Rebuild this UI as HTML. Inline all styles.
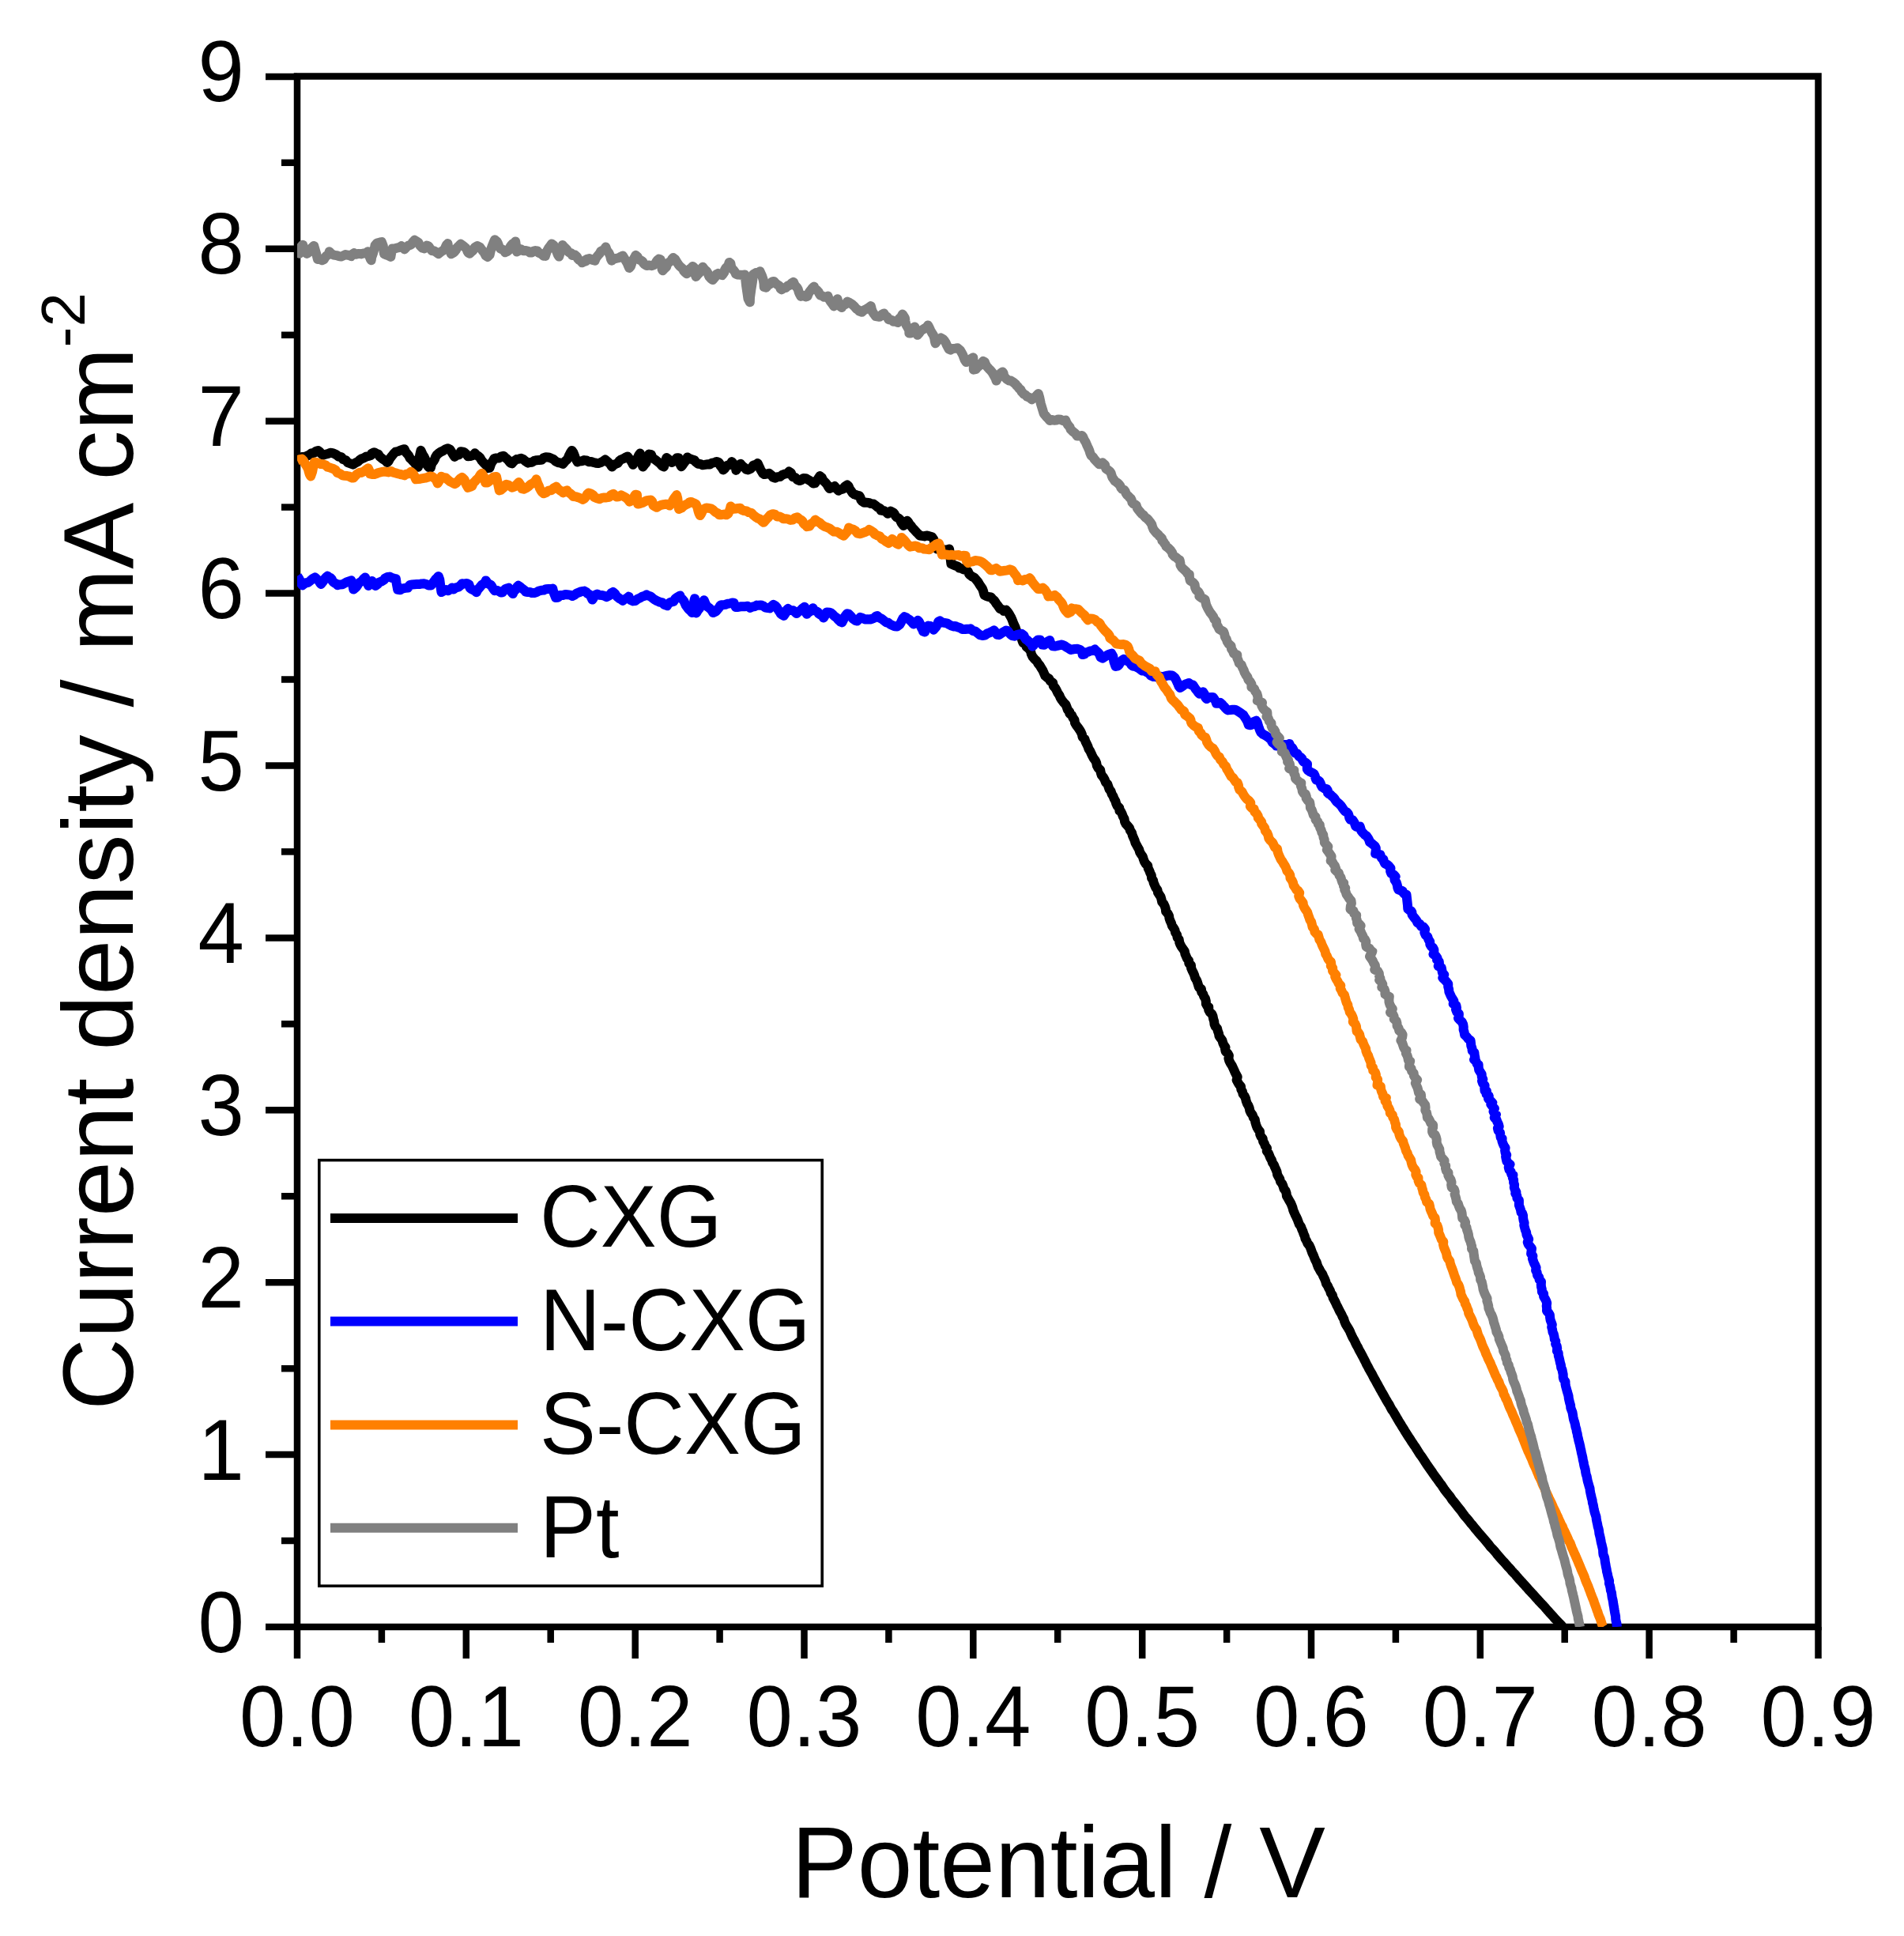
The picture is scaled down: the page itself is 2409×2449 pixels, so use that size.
<!DOCTYPE html>
<html><head><meta charset="utf-8"><title>J-V curves</title><style>html,body{margin:0;padding:0;background:#fff;overflow:hidden}svg{display:block}</style></head><body>
<svg width="2409" height="2449" viewBox="0 0 2409 2449">
<rect width="2409" height="2449" fill="#fff"/>
<g stroke="#000" stroke-width="8.5" fill="none" stroke-linecap="butt">
<rect x="376" y="96.5" width="1924.5" height="1961.5"/>
<line x1="336" y1="2058.0" x2="376" y2="2058.0"/>
<line x1="356" y1="1949.0" x2="376" y2="1949.0"/>
<line x1="336" y1="1840.1" x2="376" y2="1840.1"/>
<line x1="356" y1="1731.2" x2="376" y2="1731.2"/>
<line x1="336" y1="1622.2" x2="376" y2="1622.2"/>
<line x1="356" y1="1513.2" x2="376" y2="1513.2"/>
<line x1="336" y1="1404.3" x2="376" y2="1404.3"/>
<line x1="356" y1="1295.3" x2="376" y2="1295.3"/>
<line x1="336" y1="1186.4" x2="376" y2="1186.4"/>
<line x1="356" y1="1077.4" x2="376" y2="1077.4"/>
<line x1="336" y1="968.5" x2="376" y2="968.5"/>
<line x1="356" y1="859.5" x2="376" y2="859.5"/>
<line x1="336" y1="750.6" x2="376" y2="750.6"/>
<line x1="356" y1="641.6" x2="376" y2="641.6"/>
<line x1="336" y1="532.7" x2="376" y2="532.7"/>
<line x1="356" y1="423.8" x2="376" y2="423.8"/>
<line x1="336" y1="314.8" x2="376" y2="314.8"/>
<line x1="356" y1="205.8" x2="376" y2="205.8"/>
<line x1="336" y1="96.9" x2="376" y2="96.9"/>
<line x1="376.0" y1="2058" x2="376.0" y2="2098"/>
<line x1="482.9" y1="2058" x2="482.9" y2="2078"/>
<line x1="589.8" y1="2058" x2="589.8" y2="2098"/>
<line x1="696.7" y1="2058" x2="696.7" y2="2078"/>
<line x1="803.7" y1="2058" x2="803.7" y2="2098"/>
<line x1="910.6" y1="2058" x2="910.6" y2="2078"/>
<line x1="1017.5" y1="2058" x2="1017.5" y2="2098"/>
<line x1="1124.4" y1="2058" x2="1124.4" y2="2078"/>
<line x1="1231.3" y1="2058" x2="1231.3" y2="2098"/>
<line x1="1338.2" y1="2058" x2="1338.2" y2="2078"/>
<line x1="1445.2" y1="2058" x2="1445.2" y2="2098"/>
<line x1="1552.1" y1="2058" x2="1552.1" y2="2078"/>
<line x1="1659.0" y1="2058" x2="1659.0" y2="2098"/>
<line x1="1765.9" y1="2058" x2="1765.9" y2="2078"/>
<line x1="1872.8" y1="2058" x2="1872.8" y2="2098"/>
<line x1="1979.7" y1="2058" x2="1979.7" y2="2078"/>
<line x1="2086.6" y1="2058" x2="2086.6" y2="2098"/>
<line x1="2193.6" y1="2058" x2="2193.6" y2="2078"/>
<line x1="2300.5" y1="2058" x2="2300.5" y2="2098"/>
</g>
<defs><clipPath id="c"><rect x="376" y="96" width="1925" height="1962"/></clipPath></defs>
<g clip-path="url(#c)" fill="none" stroke-width="12" stroke-linejoin="round" stroke-linecap="butt">
<path d="M376.2,580.6 378.8,578.6 381.9,578.1 385.0,577.9 388.0,576.9 391.1,575.7 393.7,573.5 397.1,572.9 399.8,570.8 402.6,570.0 404.6,571.5 405.7,573.2 408.6,575.7 411.8,574.8 414.9,574.0 417.9,572.8 421.2,573.2 424.1,574.5 426.6,576.0 428.1,577.5 431.8,578.2 434.2,581.1 437.6,582.2 439.9,585.2 443.3,586.4 446.7,587.6 449.5,585.6 453.0,583.8 454.9,582.0 457.1,580.5 460.2,579.4 463.1,577.7 466.4,577.0 469.5,575.8 470.3,573.6 473.3,572.2 476.6,573.9 478.6,574.5 480.8,577.9 483.8,580.3 487.1,582.3 489.8,585.0 491.5,583.6 492.8,581.0 494.5,578.5 496.4,576.1 498.3,573.8 500.4,571.7 503.5,571.0 506.5,569.7 509.5,568.7 511.7,568.2 513.4,572.0 515.4,574.3 517.3,576.6 518.5,579.3 520.3,581.0 521.8,582.6 523.3,584.2 524.9,585.7 526.0,587.8 527.3,589.6 529.0,590.8 529.9,582.6 531.3,575.0 532.5,569.8 534.6,574.7 536.6,577.8 538.1,581.1 538.7,584.9 540.2,588.2 542.6,591.1 545.0,591.3 545.7,588.4 546.7,585.6 548.6,583.4 550.0,580.9 551.0,578.1 552.5,575.7 554.5,573.8 557.4,571.8 560.6,570.3 563.4,568.4 566.8,567.2 569.3,568.5 570.8,570.8 572.2,573.2 573.6,575.6 575.2,577.9 576.3,576.0 578.8,575.7 581.0,575.1 582.0,573.1 583.0,571.2 586.2,571.6 588.0,572.7 589.5,574.0 590.9,575.5 592.1,577.2 595.1,577.1 598.4,576.1 600.8,573.3 602.9,575.7 605.1,577.0 607.1,578.6 608.3,580.7 609.6,582.8 611.2,584.6 612.9,586.4 614.7,588.1 616.5,589.8 617.5,592.1 619.6,591.8 620.6,588.6 621.8,585.6 623.7,582.9 625.3,580.1 628.1,579.4 631.3,579.4 634.0,577.6 637.0,576.7 639.5,579.1 641.3,580.4 642.9,582.0 644.2,583.8 645.6,585.5 647.9,586.3 649.6,584.0 651.8,582.2 653.7,581.0 656.5,580.6 659.5,579.8 662.3,581.2 665.1,583.6 668.0,585.6 670.0,584.9 673.2,584.7 675.9,582.8 678.9,582.2 682.1,581.9 685.3,581.8 687.8,579.2 690.7,578.3 694.0,578.4 697.2,579.6 700.3,581.0 702.8,583.4 705.8,585.0 709.3,585.7 712.2,586.8 715.1,583.3 717.2,581.6 718.7,579.4 719.7,576.8 720.9,574.4 722.1,572.1 723.6,569.9 725.5,572.7 726.8,575.9 727.9,579.3 729.5,582.4 730.8,584.5 733.0,583.4 736.4,583.3 739.1,582.1 742.1,582.5 744.9,584.2 748.0,584.1 751.0,585.0 753.9,585.7 757.0,586.1 759.9,585.1 763.0,583.5 765.9,581.5 768.8,584.0 770.3,585.5 772.1,586.8 773.1,588.8 774.4,590.5 775.8,588.7 777.5,587.6 779.5,586.8 781.5,586.0 782.7,584.3 783.9,582.7 785.5,581.5 788.9,580.2 791.9,578.3 794.1,577.5 796.0,579.9 798.0,582.4 799.6,585.0 800.9,587.8 803.3,583.5 805.3,581.2 806.9,578.7 808.2,575.9 809.8,573.5 810.4,579.1 811.7,585.5 813.3,590.5 815.6,587.5 817.5,585.4 818.1,582.4 818.6,579.4 819.7,576.7 821.1,574.5 824.1,575.2 824.8,577.5 825.7,579.4 829.0,581.5 832.0,583.9 835.1,586.4 837.7,589.4 839.9,590.5 841.2,586.6 842.2,582.4 843.3,579.0 845.6,580.8 847.3,582.0 848.9,583.3 850.1,585.0 852.7,583.4 854.6,581.3 856.4,579.2 858.5,579.3 859.3,583.1 860.2,586.8 862.0,590.2 863.7,588.1 865.4,585.6 867.3,583.3 869.1,580.9 869.6,578.4 872.4,580.1 875.6,581.2 878.8,582.2 879.9,584.1 881.5,585.4 883.1,586.7 886.0,586.9 889.0,588.3 892.0,587.9 894.8,587.2 898.2,587.4 901.0,585.6 904.2,585.1 906.6,583.9 909.4,584.9 910.6,586.7 911.3,589.0 912.6,590.7 914.0,592.3 915.0,594.4 917.4,592.4 917.9,590.0 921.6,588.3 923.8,587.8 924.9,586.1 925.8,584.1 929.5,588.2 931.0,592.0 931.3,594.9 933.9,591.1 935.5,589.0 937.0,586.8 939.3,589.5 941.0,590.8 942.7,592.1 944.1,593.7 946.2,594.4 949.6,593.0 952.1,590.5 953.0,588.5 956.7,587.7 958.6,586.1 959.6,588.0 960.8,590.8 962.1,593.6 963.6,596.3 965.2,599.0 967.0,600.1 970.0,599.6 973.0,598.8 976.4,601.5 978.0,603.7 980.7,604.8 983.5,603.2 986.9,603.1 989.6,600.9 992.5,599.7 995.8,599.1 998.2,596.5 1000.9,598.3 1001.7,601.0 1003.0,603.1 1006.2,604.0 1008.6,606.7 1011.6,608.1 1013.8,607.3 1016.4,604.9 1019.7,605.2 1022.9,607.1 1026.2,608.9 1028.9,611.6 1031.1,611.2 1032.7,608.9 1034.4,606.7 1035.9,604.4 1037.3,602.1 1040.0,604.4 1041.1,607.1 1043.0,609.2 1045.1,611.3 1046.8,613.5 1048.1,616.1 1049.6,618.0 1052.8,616.6 1056.0,615.0 1057.6,617.3 1059.2,619.0 1060.8,620.7 1063.1,619.4 1066.7,618.4 1069.0,615.3 1072.0,613.5 1073.6,615.1 1074.9,618.3 1076.9,621.0 1078.7,623.8 1081.1,625.4 1084.3,626.5 1087.5,627.4 1088.7,629.8 1089.3,632.5 1091.0,634.3 1093.2,635.7 1096.0,635.6 1099.0,635.9 1102.0,637.1 1105.0,637.4 1107.7,639.3 1110.5,641.7 1113.8,643.4 1114.5,645.6 1118.6,646.2 1121.7,648.1 1123.3,649.8 1125.1,648.4 1126.8,646.6 1130.5,648.5 1131.9,650.4 1133.0,652.6 1134.6,654.3 1136.8,655.5 1138.6,657.1 1139.5,659.4 1140.6,661.6 1142.0,663.5 1143.3,665.0 1145.0,662.1 1146.0,660.1 1147.8,658.8 1149.5,660.9 1150.7,663.0 1152.4,664.8 1153.8,666.8 1155.3,668.7 1157.1,670.4 1158.7,672.2 1160.3,674.0 1162.1,675.7 1163.7,677.5 1166.3,677.9 1169.5,678.4 1172.4,677.5 1175.6,678.1 1179.1,679.2 1181.2,682.0 1182.1,685.4 1182.9,688.9 1184.5,691.9 1185.7,694.4 1189.0,694.1 1192.0,695.3 1195.0,695.5 1198.0,695.5 1201.1,694.6 1202.4,704.8 1203.4,713.3 1205.5,714.2 1208.5,715.5 1211.7,716.5 1213.7,718.6 1216.0,718.9 1219.1,720.4 1222.5,721.1 1224.8,722.8 1225.9,725.7 1227.2,727.2 1230.4,729.6 1232.4,730.3 1234.6,732.7 1237.4,736.1 1239.1,738.9 1240.9,741.7 1242.8,744.4 1244.0,747.5 1244.9,750.8 1245.5,752.9 1247.5,753.8 1250.5,754.9 1253.8,755.5 1255.7,757.7 1258.1,759.8 1259.5,761.9 1260.8,764.0 1262.4,765.9 1263.9,768.0 1265.2,770.1 1268.5,771.2 1269.9,773.0 1273.0,771.7 1275.5,774.6 1277.5,777.9 1279.4,781.2 1280.9,784.8 1282.2,788.4 1283.6,791.4 1284.9,794.3 1285.8,797.4 1287.5,800.1 1289.8,802.5 1291.6,805.2 1292.7,808.2 1293.7,811.3 1294.5,813.3 1296.9,814.6 1298.9,815.4 1298.7,818.3 1301.7,820.6 1304.0,823.4 1304.8,827.2 1306.4,830.6 1308.7,833.4 1311.5,835.9 1313.3,839.1 1315.6,841.9 1317.5,845.1 1319.4,848.2 1320.9,851.6 1322.4,855.0 1325.3,857.4 1327.1,858.3 1328.8,861.5 1332.2,863.7 1332.7,867.6 1335.2,870.3 1336.9,873.4 1338.4,876.7 1340.4,879.6 1341.8,883.0 1343.7,885.9 1345.9,888.7 1348.4,891.2 1349.7,894.5 1350.9,897.9 1353.3,900.5 1353.2,902.5 1356.1,904.8 1357.5,908.0 1359.5,910.8 1360.0,914.4 1361.7,917.4 1363.8,920.1 1365.8,922.9 1367.5,925.8 1368.9,928.9 1369.6,932.4 1372.4,934.8 1373.4,938.0 1374.9,941.0 1376.4,944.1 1377.4,947.3 1379.3,950.1 1380.7,953.2 1382.1,956.3 1383.7,959.3 1385.8,961.9 1387.2,965.0 1387.8,968.5 1389.4,971.5 1392.1,973.9 1392.7,977.3 1393.7,980.6 1396.0,983.2 1397.7,986.2 1398.8,989.4 1401.3,991.9 1402.4,995.1 1403.5,998.3 1405.6,1001.0 1406.6,1004.3 1408.4,1007.2 1409.6,1010.3 1411.3,1013.2 1412.2,1016.5 1413.6,1019.5 1416.3,1022.0 1416.4,1025.6 1418.2,1026.6 1419.7,1029.6 1420.8,1032.8 1422.5,1035.7 1423.0,1039.2 1424.5,1042.2 1426.8,1044.8 1429.0,1047.4 1430.0,1050.6 1432.0,1053.4 1432.8,1056.6 1434.1,1059.7 1435.5,1062.7 1436.4,1066.0 1438.0,1068.9 1439.6,1071.8 1441.2,1074.7 1442.1,1077.9 1443.8,1080.8 1445.8,1083.5 1446.7,1086.7 1447.9,1089.8 1449.6,1092.6 1452.2,1095.1 1452.7,1098.4 1454.2,1101.4 1455.4,1104.5 1456.8,1107.4 1457.1,1110.9 1459.0,1113.6 1459.7,1116.9 1461.0,1119.9 1462.3,1122.9 1464.4,1125.6 1465.0,1128.9 1466.8,1131.7 1468.6,1134.5 1469.5,1137.7 1470.2,1140.9 1472.4,1143.5 1473.8,1146.5 1474.8,1149.6 1475.1,1153.0 1477.5,1155.6 1479.0,1158.5 1479.5,1161.8 1480.6,1164.9 1482.0,1167.8 1482.9,1171.0 1484.8,1173.7 1486.5,1176.5 1487.1,1179.8 1489.1,1182.5 1489.6,1185.9 1491.7,1188.5 1492.2,1191.9 1493.4,1194.9 1494.9,1197.8 1496.9,1200.5 1498.8,1203.3 1499.4,1206.6 1500.7,1209.6 1502.0,1212.6 1504.1,1215.3 1504.3,1218.7 1507.0,1221.1 1507.1,1224.7 1508.4,1227.7 1509.9,1230.6 1511.2,1233.6 1512.1,1236.8 1513.8,1239.6 1515.0,1242.6 1516.0,1245.8 1516.9,1249.0 1520.0,1251.2 1520.1,1254.7 1522.2,1257.4 1523.2,1260.5 1525.0,1263.2 1525.8,1266.5 1525.9,1270.0 1527.6,1272.8 1529.3,1273.8 1529.2,1277.4 1530.7,1280.3 1533.3,1282.7 1534.6,1285.7 1535.2,1289.0 1536.2,1292.1 1536.5,1295.5 1537.8,1298.5 1540.1,1301.0 1540.8,1304.2 1542.0,1307.3 1542.5,1310.6 1544.4,1313.3 1546.4,1316.0 1547.2,1319.1 1548.5,1322.1 1550.5,1324.8 1550.0,1326.7 1550.6,1330.0 1553.3,1332.4 1554.9,1335.2 1554.4,1338.9 1555.3,1342.0 1556.8,1344.9 1558.6,1347.7 1560.0,1350.6 1561.3,1353.5 1562.6,1356.5 1564.1,1359.4 1565.7,1362.2 1565.2,1364.2 1564.6,1366.2 1566.1,1369.1 1567.8,1371.9 1570.0,1374.5 1570.3,1377.9 1571.9,1380.7 1572.6,1383.9 1574.7,1386.6 1576.0,1389.5 1576.7,1392.8 1577.8,1395.8 1579.5,1398.6 1580.7,1401.7 1581.3,1404.9 1582.7,1407.8 1584.8,1410.5 1585.8,1413.6 1587.8,1416.3 1588.3,1419.6 1589.2,1422.7 1590.3,1425.8 1591.9,1428.7 1594.0,1431.3 1594.2,1434.8 1595.5,1437.8 1597.7,1440.4 1598.1,1443.8 1599.8,1446.6 1600.8,1449.7 1603.0,1452.3 1602.7,1456.0 1604.8,1458.7 1606.1,1461.7 1607.3,1464.7 1609.0,1467.6 1609.9,1470.7 1611.8,1473.5 1613.0,1476.5 1614.4,1479.5 1615.6,1482.5 1616.1,1485.9 1617.7,1488.8 1619.3,1491.6 1620.1,1494.8 1622.3,1497.5 1623.5,1500.5 1624.4,1503.7 1626.5,1506.3 1627.6,1509.4 1627.9,1512.9 1629.6,1515.7 1631.1,1518.6 1632.9,1521.4 1634.2,1524.4 1635.4,1527.5 1636.2,1530.7 1637.4,1533.7 1638.7,1536.7 1640.2,1539.6 1641.6,1542.6 1642.7,1545.7 1643.9,1548.8 1645.9,1551.5 1647.0,1554.6 1648.4,1557.6 1649.4,1560.7 1650.8,1563.7 1651.5,1567.0 1653.2,1569.8 1654.4,1572.9 1656.6,1575.5 1658.0,1578.5 1659.1,1581.6 1660.2,1584.7 1661.7,1587.7 1662.9,1590.8 1664.1,1593.8 1665.7,1596.7 1666.7,1599.9 1667.9,1603.0 1669.6,1605.9 1671.1,1608.8 1673.1,1611.5 1674.4,1614.6 1675.9,1617.6 1677.1,1620.7 1678.0,1623.9 1679.9,1626.7 1681.2,1629.7 1682.9,1632.5 1683.8,1635.8 1685.9,1638.5 1686.6,1641.8 1688.3,1644.7 1689.8,1647.7 1691.1,1650.8 1692.7,1653.7 1694.1,1656.7 1695.6,1659.7 1697.3,1662.5 1698.6,1665.6 1700.3,1668.5 1701.2,1671.8 1702.5,1674.9 1704.2,1677.8 1706.0,1680.6 1707.7,1683.5 1709.0,1686.6 1710.4,1689.7 1711.8,1692.7 1713.6,1695.6 1715.0,1698.7 1716.5,1701.7 1718.2,1704.6 1719.6,1707.7 1721.3,1710.6 1722.9,1713.6 1724.5,1716.6 1726.0,1719.6 1727.6,1722.6 1729.0,1725.7 1730.7,1728.7 1732.2,1731.8 1733.9,1734.7 1735.6,1737.6 1737.2,1740.7 1738.7,1743.7 1740.5,1746.7 1742.1,1749.7 1743.8,1752.7 1745.4,1755.7 1747.1,1758.7 1748.7,1761.7 1750.5,1764.7 1752.2,1767.7 1753.8,1770.7 1755.6,1773.7 1757.5,1776.6 1759.1,1779.7 1760.7,1782.8 1762.8,1785.6 1764.5,1788.6 1766.3,1791.6 1768.0,1794.7 1769.8,1797.7 1771.7,1800.7 1773.5,1803.7 1775.4,1806.7 1777.2,1809.7 1779.1,1812.7 1781.0,1815.7 1782.9,1818.7 1784.9,1821.7 1786.8,1824.7 1788.8,1827.7 1790.9,1830.6 1792.7,1833.6 1794.7,1836.7 1796.6,1839.7 1798.7,1842.6 1800.8,1845.6 1802.7,1848.7 1804.7,1851.7 1806.8,1854.7 1808.9,1857.7 1811.0,1860.7 1813.0,1863.7 1815.2,1866.7 1817.3,1869.7 1819.5,1872.6 1821.6,1875.7 1823.9,1878.6 1825.9,1881.7 1828.0,1884.8 1830.3,1887.7 1832.7,1890.7 1835.0,1893.6 1837.0,1896.8 1839.4,1899.7 1841.8,1902.6 1844.1,1905.7 1846.5,1908.6 1848.9,1911.6 1851.1,1914.7 1853.4,1917.8 1855.9,1920.7 1858.4,1923.7 1860.7,1926.7 1863.3,1929.6 1865.7,1932.7 1868.3,1935.7 1870.7,1938.7 1873.2,1941.7 1875.9,1944.6 1878.5,1947.6 1881.0,1950.6 1883.5,1953.6 1885.9,1956.8 1888.7,1959.7 1891.4,1962.6 1893.8,1965.7 1896.4,1968.7 1899.0,1971.7 1901.7,1974.7 1903.1,1976.2 1904.4,1977.6 1905.8,1979.2 1907.1,1980.7 1908.4,1982.2 1909.8,1983.6 1911.2,1985.1 1912.4,1986.7 1913.7,1988.2 1915.1,1989.7 1916.6,1991.0 1917.9,1992.6 1919.1,1994.2 1920.5,1995.7 1921.8,1997.2 1923.1,1998.7 1924.5,2000.2 1925.9,2001.6 1927.2,2003.2 1928.6,2004.7 1930.0,2006.2 1931.3,2007.7 1932.7,2009.2 1934.0,2010.7 1935.3,2012.2 1936.7,2013.7 1938.1,2015.2 1939.5,2016.6 1940.9,2018.1 1942.2,2019.6 1943.5,2021.2 1944.9,2022.7 1946.3,2024.2 1947.6,2025.7 1949.0,2027.2 1950.4,2028.6 1951.8,2030.1 1953.2,2031.5 1954.6,2033.0 1955.9,2034.6 1957.2,2036.1 1958.6,2037.7 1959.9,2039.1 1961.2,2040.7 1962.6,2042.2 1964.0,2043.7 1965.4,2045.2 1966.7,2046.7 1968.0,2048.2 1969.5,2049.6 1970.8,2051.1 1972.2,2052.6 1973.7,2054.0 1975.1,2055.4 1976.4,2057.0 1977.0,2058.0" stroke="#000000"/>
<path d="M376.2,728.7 378.1,731.5 379.6,734.5 380.6,737.7 382.6,740.4 384.6,738.8 387.7,736.9 389.8,736.9 392.7,734.6 395.4,732.2 398.6,730.3 401.8,733.3 403.4,735.1 404.7,737.1 406.1,739.0 408.7,735.8 410.0,733.8 411.2,731.8 412.7,730.0 414.6,728.6 416.2,730.5 418.4,731.1 419.8,732.7 420.6,734.9 421.9,736.5 423.7,737.6 425.7,738.6 427.1,740.2 429.9,739.5 433.3,739.2 436.1,737.7 439.0,736.2 442.0,735.2 444.4,734.2 445.3,736.1 446.5,741.1 447.3,745.6 449.6,743.7 451.1,742.2 452.3,740.4 453.3,738.3 455.0,736.9 456.9,735.7 458.5,734.3 459.7,732.5 462.0,730.5 463.6,734.7 465.1,738.3 466.2,740.9 467.8,739.0 469.1,736.8 470.6,734.9 473.6,738.3 475.1,741.0 477.9,738.9 479.0,737.1 482.6,735.5 485.9,733.6 486.9,731.7 490.4,730.0 493.0,729.6 495.9,730.9 498.9,731.8 500.9,732.2 501.6,737.4 503.2,745.8 506.5,746.3 509.3,744.5 512.8,743.9 516.2,743.5 517.2,741.7 518.7,739.9 521.4,739.5 524.4,739.2 527.4,739.0 530.5,739.1 533.5,738.4 536.5,738.3 539.4,739.0 542.2,740.5 545.5,740.4 548.0,737.0 549.6,734.9 551.1,732.8 553.0,730.9 554.8,729.0 556.3,733.3 557.3,741.2 558.5,749.1 561.6,747.3 564.7,746.1 567.1,747.1 569.9,745.3 572.1,743.5 573.7,745.5 576.4,743.6 578.4,743.0 580.4,742.4 583.4,739.9 584.5,738.2 587.5,738.6 590.6,738.0 593.5,739.4 594.6,743.7 596.6,745.3 599.1,746.4 601.4,747.8 602.8,749.2 603.8,747.0 605.2,745.0 606.9,743.3 608.3,741.4 609.9,739.6 612.1,738.3 613.8,736.6 614.7,734.4 617.0,737.9 618.9,739.0 621.0,740.0 622.3,741.7 623.3,743.7 624.5,745.5 625.9,747.2 628.2,746.7 631.1,747.8 633.8,749.6 635.9,749.3 636.9,747.6 639.7,744.9 641.6,744.3 643.6,743.6 645.8,746.3 647.3,749.1 649.0,751.1 649.8,748.4 651.7,746.6 653.2,744.6 654.3,742.3 655.8,740.8 658.1,742.3 660.9,744.7 663.9,746.8 664.9,748.5 667.9,749.0 670.0,748.9 673.0,750.0 676.0,750.1 679.0,749.1 681.8,747.5 684.8,746.8 687.9,746.6 690.7,745.2 693.9,745.0 697.0,745.0 699.3,744.5 699.8,747.0 701.3,751.5 703.1,755.9 706.1,755.7 708.5,753.1 712.1,752.9 715.3,751.9 717.9,752.2 721.3,752.6 724.2,753.9 726.7,752.8 729.4,750.6 732.6,749.4 735.7,748.1 739.4,747.6 741.7,748.9 743.3,750.8 745.7,752.1 747.5,753.8 748.3,756.3 749.5,758.6 750.7,756.7 751.6,754.3 753.5,752.4 755.6,751.5 758.3,752.7 761.7,752.9 764.7,753.8 767.4,755.1 770.8,753.4 773.2,750.3 775.7,748.9 778.2,751.2 779.3,753.0 780.7,754.7 782.4,756.0 784.1,757.4 786.2,758.4 787.8,759.8 789.6,758.5 792.8,756.9 795.6,754.6 796.3,757.8 798.7,759.4 800.8,760.4 803.9,760.0 806.5,757.8 809.6,756.5 812.4,754.7 815.7,753.7 818.1,752.4 819.8,753.4 823.1,754.5 825.8,756.7 828.5,758.7 831.6,760.3 834.7,761.6 838.1,762.4 840.6,764.9 844.1,766.2 845.2,764.1 848.2,761.8 852.3,760.9 854.3,757.3 857.4,755.1 860.4,753.4 861.2,756.3 863.5,758.2 865.4,760.4 866.5,763.1 867.7,765.7 869.2,767.8 870.6,769.7 872.2,771.5 874.1,773.1 875.6,775.0 878.6,767.7 879.0,757.2 878.2,760.2 879.7,769.7 881.0,775.4 883.2,771.7 885.2,769.3 886.0,766.2 887.1,763.3 889.4,761.0 890.7,759.3 892.4,763.1 893.5,765.5 895.2,767.4 897.4,769.1 899.4,770.8 901.0,772.9 902.3,775.1 905.9,773.3 907.2,771.8 908.5,770.1 909.9,768.6 910.8,766.6 912.3,765.2 914.5,765.2 917.6,764.9 920.5,763.7 923.6,763.4 926.5,762.5 928.6,762.8 929.6,765.4 930.8,767.9 933.9,767.9 936.9,767.3 940.0,767.2 943.1,767.2 946.0,766.7 949.1,769.0 951.9,767.6 955.3,767.0 957.5,765.6 959.5,765.8 962.8,765.4 965.7,766.6 968.3,768.6 971.4,769.0 973.8,769.5 975.8,767.4 978.5,764.8 981.1,766.4 982.7,768.1 983.9,770.2 985.1,772.2 986.5,774.1 987.7,776.2 989.6,777.7 991.7,779.0 994.4,774.9 995.4,771.4 997.0,770.0 999.9,771.9 1003.6,772.3 1006.2,774.6 1007.9,776.0 1010.2,773.6 1012.1,772.9 1014.8,770.1 1017.9,767.7 1018.5,769.9 1019.7,775.1 1020.9,776.8 1022.2,774.8 1024.3,773.9 1025.9,772.4 1027.3,770.7 1028.5,769.2 1029.5,771.0 1030.9,772.5 1032.9,773.3 1034.8,774.3 1035.8,776.2 1037.5,777.4 1039.4,778.3 1040.9,779.7 1042.0,781.5 1043.4,779.3 1044.2,776.5 1046.0,774.4 1049.5,774.8 1051.6,775.5 1053.1,776.8 1054.6,778.3 1056.0,779.6 1057.7,780.8 1059.2,782.1 1060.4,783.8 1061.9,785.1 1063.3,786.5 1065.3,787.4 1066.5,785.1 1067.7,782.8 1068.7,780.3 1070.2,778.2 1071.9,776.2 1073.9,776.8 1076.7,779.5 1079.1,782.8 1082.4,784.9 1084.4,785.5 1086.8,783.0 1088.3,780.9 1091.5,782.0 1094.3,783.4 1097.5,783.2 1100.6,783.6 1103.2,782.9 1106.8,781.5 1107.9,779.8 1109.8,779.0 1112.6,781.3 1115.7,782.9 1118.5,785.2 1121.3,787.4 1123.4,787.4 1126.2,789.7 1129.0,790.9 1131.9,792.2 1135.0,792.5 1138.3,790.2 1139.8,787.7 1140.9,785.0 1142.3,782.4 1144.3,780.2 1146.8,781.3 1148.4,782.5 1150.2,783.6 1151.7,784.9 1153.1,786.4 1154.4,787.9 1155.8,789.4 1157.8,788.6 1158.9,786.9 1161.4,784.8 1162.9,786.6 1164.3,789.4 1165.1,792.5 1166.4,795.3 1168.5,797.8 1170.1,799.4 1168.0,798.8 1169.6,796.1 1172.1,793.9 1174.4,791.6 1177.4,792.0 1178.7,793.5 1179.9,795.1 1181.1,796.7 1184.6,792.8 1186.4,788.9 1187.2,786.5 1189.2,785.3 1192.0,787.3 1194.9,787.8 1197.9,788.3 1200.8,790.0 1203.6,791.5 1206.8,792.4 1208.7,791.9 1211.6,793.3 1214.7,794.3 1217.6,795.9 1221.0,796.0 1223.3,795.7 1225.3,795.8 1228.0,795.3 1230.6,797.8 1234.2,798.6 1236.9,800.8 1239.7,803.1 1243.1,804.0 1246.3,803.6 1248.9,801.5 1252.0,800.4 1254.9,798.9 1257.8,797.3 1260.0,800.5 1261.6,802.8 1264.0,803.2 1266.9,801.1 1270.0,799.2 1273.0,797.5 1275.1,798.1 1276.3,799.9 1277.6,801.5 1279.0,803.0 1280.8,804.1 1283.6,804.7 1286.4,803.1 1289.5,802.4 1292.6,801.8 1295.6,804.1 1296.5,806.5 1297.9,808.6 1300.2,810.1 1301.9,811.9 1303.9,813.6 1305.8,815.3 1306.2,817.7 1307.8,816.3 1308.8,814.4 1310.0,812.5 1311.6,811.0 1313.0,809.5 1316.0,809.5 1317.0,811.4 1317.7,813.7 1318.7,815.6 1321.1,815.8 1324.0,813.5 1325.0,811.7 1328.2,810.0 1328.7,812.2 1330.2,814.9 1332.0,817.3 1334.5,817.5 1337.5,816.9 1340.5,816.1 1343.5,815.5 1346.6,816.8 1349.5,818.8 1352.6,820.5 1354.9,822.1 1357.0,821.5 1360.0,820.9 1363.0,820.8 1366.8,821.9 1368.4,823.7 1369.4,826.1 1369.6,828.1 1372.3,827.4 1373.3,825.5 1376.4,824.7 1379.4,823.4 1382.5,823.1 1385.3,821.5 1386.8,823.3 1388.8,824.9 1390.5,826.7 1391.6,829.0 1392.5,831.4 1395.0,832.6 1397.7,830.9 1400.5,829.1 1403.3,827.6 1406.3,826.6 1408.3,830.2 1409.3,836.7 1411.5,843.0 1414.4,842.3 1416.0,840.7 1417.1,838.7 1418.4,836.9 1419.8,835.1 1421.8,833.9 1424.6,835.3 1426.5,836.1 1429.8,838.2 1431.4,841.0 1433.3,842.5 1436.6,843.1 1439.5,844.5 1442.3,846.4 1445.0,848.4 1447.2,847.8 1450.2,849.9 1453.5,851.5 1455.9,854.5 1459.3,856.0 1461.9,855.9 1465.1,857.1 1468.0,855.8 1471.1,856.2 1474.1,855.4 1477.0,854.7 1480.0,854.2 1483.1,854.5 1486.4,857.1 1487.8,859.7 1489.1,862.4 1490.4,865.2 1491.5,868.0 1493.1,870.1 1495.2,868.7 1496.9,867.5 1498.4,866.2 1501.0,865.1 1504.2,864.0 1507.0,866.3 1509.1,866.2 1511.4,869.6 1512.8,871.8 1514.5,873.7 1515.9,875.9 1517.6,877.7 1520.5,876.2 1522.2,875.2 1524.1,878.4 1525.0,882.0 1526.5,884.1 1529.5,882.2 1532.5,882.1 1534.9,882.0 1537.9,886.5 1539.0,889.7 1541.5,889.8 1544.1,888.9 1546.0,890.6 1547.4,892.3 1549.0,893.8 1550.3,895.6 1551.8,897.1 1553.6,898.4 1556.5,898.1 1559.5,897.7 1562.5,897.7 1565.4,899.2 1568.5,901.1 1571.4,903.2 1573.3,904.5 1574.6,906.7 1576.7,909.9 1578.5,913.3 1579.7,916.9 1581.9,917.3 1583.8,916.7 1584.9,915.0 1585.9,913.2 1589.4,911.6 1590.7,913.7 1592.3,919.0 1594.2,924.2 1595.5,926.7 1598.3,929.0 1601.6,930.7 1604.7,932.7 1606.2,934.1 1607.9,935.4 1608.9,937.4 1610.0,939.3 1611.7,940.6 1613.6,941.7 1614.7,943.6 1618.0,943.1 1621.0,943.0 1623.9,942.0 1626.9,942.0 1630.1,942.9 1631.4,940.9 1633.0,944.4 1635.1,946.0 1636.3,948.3 1637.3,950.8 1638.8,952.6 1641.3,953.3 1642.4,955.2 1643.6,957.0 1645.7,957.9 1647.2,959.4 1648.0,961.6 1649.0,963.4 1651.9,964.7 1654.0,966.4 1653.8,969.8 1653.8,973.0 1655.1,974.6 1657.8,976.4 1660.4,977.6 1662.6,979.0 1663.7,981.3 1664.4,984.0 1665.2,986.4 1667.8,987.2 1669.6,988.7 1670.7,990.8 1671.4,993.2 1672.6,995.4 1674.4,996.6 1676.3,997.7 1678.8,998.2 1679.9,1000.1 1679.9,1003.1 1681.6,1004.4 1683.6,1005.4 1685.1,1007.1 1686.9,1008.5 1688.5,1010.3 1689.7,1012.2 1691.1,1014.1 1692.9,1015.6 1694.7,1017.1 1696.3,1018.8 1697.7,1020.6 1698.9,1022.6 1700.3,1024.5 1701.7,1026.2 1704.3,1027.6 1705.9,1029.5 1706.7,1032.0 1707.3,1034.7 1708.6,1036.9 1711.5,1037.3 1712.6,1039.1 1713.7,1040.9 1714.5,1043.0 1715.2,1045.4 1717.3,1046.2 1720.7,1045.6 1721.5,1048.1 1722.1,1050.7 1723.6,1052.7 1725.4,1054.5 1727.1,1056.3 1729.0,1057.4 1730.9,1060.1 1732.2,1062.5 1733.0,1065.3 1735.5,1066.9 1737.6,1068.7 1739.7,1070.4 1740.8,1072.8 1740.8,1076.0 1740.2,1079.7 1743.2,1080.6 1746.4,1081.1 1747.1,1083.6 1748.3,1085.7 1750.4,1087.1 1750.8,1089.4 1752.2,1092.3 1755.3,1093.9 1757.6,1095.9 1759.5,1098.3 1759.1,1102.0 1760.2,1104.9 1763.5,1106.6 1765.6,1108.9 1764.3,1110.8 1764.6,1113.3 1766.7,1116.2 1767.8,1119.6 1768.4,1123.2 1769.3,1125.3 1772.6,1126.5 1774.6,1127.2 1775.5,1129.3 1776.9,1130.7 1779.5,1131.8 1781.0,1145.4 1781.3,1149.8 1783.4,1151.4 1785.3,1152.2 1786.4,1153.9 1786.5,1156.9 1789.1,1160.5 1790.8,1162.5 1792.3,1164.6 1793.3,1167.1 1796.5,1169.0 1798.2,1172.0 1801.0,1172.4 1803.1,1175.3 1802.3,1179.6 1803.6,1182.7 1806.3,1185.1 1807.3,1188.3 1809.2,1191.1 1809.3,1194.7 1811.0,1197.5 1812.8,1198.5 1814.4,1201.4 1814.3,1205.0 1813.5,1207.1 1816.7,1209.3 1818.6,1212.0 1818.0,1214.0 1820.8,1216.4 1821.0,1219.8 1819.7,1222.0 1823.7,1223.9 1824.3,1227.1 1824.9,1230.4 1827.2,1233.0 1826.1,1235.1 1825.3,1237.1 1828.0,1239.5 1830.3,1242.1 1832.3,1244.7 1832.2,1248.2 1833.1,1251.3 1833.4,1254.6 1834.7,1257.6 1836.0,1260.5 1837.7,1263.3 1839.4,1266.1 1838.7,1269.7 1842.4,1271.8 1843.0,1275.0 1842.0,1277.0 1843.2,1280.0 1845.9,1282.5 1845.7,1285.9 1845.0,1287.9 1847.3,1290.5 1849.8,1292.9 1851.2,1295.8 1851.7,1299.1 1851.6,1302.5 1852.6,1305.6 1853.0,1308.9 1855.6,1311.3 1857.6,1314.0 1860.6,1316.3 1861.0,1319.6 1861.3,1322.9 1862.4,1325.9 1862.7,1329.2 1865.4,1331.6 1865.7,1334.9 1866.4,1338.1 1865.1,1340.3 1867.6,1342.7 1868.7,1345.8 1870.6,1346.8 1870.7,1350.2 1871.2,1353.4 1872.9,1356.2 1874.7,1358.9 1874.8,1362.3 1876.3,1365.2 1875.0,1367.4 1876.1,1370.4 1878.6,1372.9 1878.3,1376.4 1878.5,1379.7 1880.9,1380.5 1880.5,1384.0 1883.8,1386.2 1883.0,1389.9 1885.8,1392.3 1888.2,1394.8 1886.4,1397.1 1888.5,1399.7 1890.9,1402.3 1889.5,1406.0 1891.0,1408.8 1893.0,1409.8 1890.8,1413.8 1893.4,1416.3 1894.4,1419.2 1895.9,1422.0 1896.7,1425.1 1894.9,1427.2 1895.6,1430.2 1898.0,1432.8 1898.3,1435.9 1898.7,1439.0 1900.6,1440.1 1900.4,1443.4 1901.4,1446.3 1902.7,1449.2 1904.6,1451.9 1904.1,1455.2 1904.6,1458.3 1906.2,1461.1 1905.1,1463.0 1905.7,1466.1 1906.4,1469.2 1908.8,1471.7 1910.5,1472.9 1908.7,1476.6 1909.5,1479.6 1911.7,1482.3 1912.2,1485.4 1914.4,1486.4 1913.8,1489.8 1915.1,1492.6 1915.1,1495.9 1916.1,1498.8 1915.8,1502.1 1916.8,1505.1 1918.4,1507.9 1917.3,1509.8 1919.3,1512.4 1919.4,1515.6 1921.9,1518.2 1921.9,1521.4 1921.9,1524.5 1923.0,1527.5 1924.0,1530.4 1924.5,1533.5 1926.1,1534.7 1927.0,1537.6 1927.1,1540.8 1927.6,1543.8 1928.6,1546.8 1928.3,1550.0 1929.1,1553.0 1929.9,1556.0 1931.1,1558.9 1931.5,1561.9 1932.9,1564.8 1934.2,1567.6 1932.7,1571.2 1933.7,1574.1 1936.0,1576.7 1938.0,1579.4 1937.5,1582.8 1937.1,1586.1 1939.4,1588.7 1938.9,1592.0 1939.9,1595.0 1940.9,1597.9 1942.4,1600.7 1943.6,1603.6 1943.1,1607.0 1944.7,1609.8 1945.0,1613.0 1947.2,1615.6 1947.6,1618.7 1950.0,1621.3 1949.8,1624.6 1950.0,1627.8 1950.8,1630.8 1950.9,1634.1 1953.1,1636.7 1953.1,1639.9 1954.7,1642.7 1956.2,1645.5 1957.2,1648.5 1956.7,1651.9 1957.1,1655.0 1957.0,1658.2 1959.3,1660.8 1960.9,1663.6 1961.1,1666.8 1961.6,1669.8 1962.7,1672.7 1963.8,1675.6 1963.2,1678.9 1964.1,1681.9 1964.5,1685.0 1965.8,1687.8 1966.5,1690.8 1966.8,1693.9 1968.3,1696.7 1968.1,1699.9 1969.7,1702.7 1970.2,1705.8 1969.9,1709.0 1971.7,1711.7 1971.8,1714.9 1972.7,1717.8 1973.4,1720.8 1974.0,1723.9 1974.9,1726.8 1975.2,1729.9 1976.5,1732.7 1977.1,1735.8 1977.7,1738.8 1977.7,1742.0 1978.4,1744.9 1980.5,1747.6 1980.5,1750.8 1981.1,1753.8 1981.9,1756.8 1982.7,1759.8 1983.6,1762.7 1984.5,1765.7 1984.8,1768.8 1985.5,1771.8 1986.2,1774.8 1987.1,1777.8 1987.3,1780.9 1988.4,1783.8 1989.5,1786.7 1990.0,1789.8 1990.5,1792.8 1991.1,1795.9 1992.1,1798.8 1992.9,1801.8 1993.4,1804.8 1994.4,1807.8 1994.8,1810.8 1995.7,1813.8 1996.1,1816.8 1996.9,1819.8 1997.5,1822.8 1998.4,1825.8 1999.1,1828.8 1999.7,1831.8 2000.4,1834.8 2000.9,1837.8 2001.7,1840.8 2002.4,1843.8 2002.8,1846.8 2003.6,1849.8 2004.1,1852.8 2004.8,1855.8 2005.7,1858.8 2006.1,1861.8 2006.7,1864.8 2007.7,1867.8 2008.2,1870.8 2008.8,1873.8 2009.7,1876.8 2010.5,1879.8 2011.5,1882.7 2011.8,1885.8 2012.4,1888.8 2013.1,1891.8 2013.7,1894.8 2014.6,1897.8 2014.9,1900.9 2015.8,1903.8 2016.3,1906.9 2016.9,1909.9 2017.6,1912.9 2018.5,1915.8 2019.5,1918.7 2019.8,1921.8 2020.4,1924.8 2021.1,1927.8 2021.6,1930.9 2022.5,1933.8 2023.1,1936.8 2023.4,1939.9 2024.2,1942.8 2024.9,1945.8 2025.4,1948.8 2026.0,1951.8 2026.8,1954.8 2027.5,1957.8 2028.1,1960.8 2028.2,1963.9 2028.6,1966.9 2029.9,1969.8 2030.5,1972.8 2030.8,1975.8 2031.4,1978.8 2031.9,1981.9 2032.6,1984.8 2033.0,1987.9 2033.8,1990.8 2034.4,1993.8 2035.2,1996.8 2036.1,1999.7 2035.9,2002.9 2036.9,2005.8 2037.6,2008.8 2037.9,2011.8 2039.0,2014.8 2039.3,2017.8 2039.7,2020.8 2040.5,2023.8 2041.0,2026.8 2041.4,2029.8 2042.0,2032.8 2042.4,2035.8 2042.9,2038.8 2043.5,2041.8 2044.1,2044.8 2044.2,2047.9 2044.7,2050.9 2045.5,2053.8 2045.7,2056.9 2045.8,2058.0" stroke="#0000FF"/>
<path d="M376.0,582.5 379.0,581.1 382.0,580.6 383.7,582.4 385.3,585.1 386.8,587.9 388.5,590.6 390.0,593.4 390.7,596.6 391.6,599.7 393.1,602.5 395.2,596.5 396.3,590.4 397.8,584.8 400.1,584.8 403.0,586.1 405.9,587.1 409.1,587.3 412.0,588.3 414.6,590.8 418.2,591.8 421.6,593.0 424.7,594.8 426.9,598.1 430.4,599.2 433.2,601.3 436.1,601.8 439.1,602.0 442.0,602.7 444.9,604.4 447.2,604.6 449.5,601.9 452.1,599.4 455.1,597.7 457.2,597.9 460.3,596.4 463.1,594.2 465.9,592.3 467.1,595.1 468.2,599.4 470.5,599.9 473.7,600.0 476.6,599.1 479.5,597.8 482.5,597.2 485.5,596.5 488.5,596.9 491.5,597.4 494.8,596.0 497.6,597.7 500.6,598.4 503.5,599.2 506.5,600.0 509.5,600.6 511.9,601.4 513.9,599.6 517.3,599.2 519.8,596.8 522.8,599.4 524.7,602.8 526.2,606.3 529.0,606.1 532.0,605.7 535.0,605.2 538.0,604.7 541.0,603.8 543.8,602.4 547.0,603.0 550.3,605.5 551.9,607.1 552.8,609.3 553.7,611.5 556.1,607.8 557.5,605.0 558.5,602.7 560.4,603.9 564.1,604.4 566.6,606.9 569.3,609.1 572.4,610.6 575.4,612.2 577.2,611.1 578.5,609.4 580.0,608.1 581.3,606.4 582.8,605.0 584.6,603.9 587.7,606.9 588.8,610.4 590.3,613.7 592.1,616.9 595.0,615.9 597.2,614.8 598.2,612.7 599.2,610.5 601.0,609.1 602.4,607.3 604.1,605.8 605.8,604.2 606.8,602.1 608.1,600.2 609.6,598.8 612.6,603.6 614.0,607.7 614.1,610.6 616.5,610.5 619.3,608.5 621.7,605.7 624.4,603.5 628.0,602.9 629.8,611.0 631.8,620.4 633.9,619.7 637.1,617.0 638.7,614.2 640.4,612.7 643.2,613.5 646.0,615.4 648.0,616.8 651.2,615.5 653.7,612.7 656.4,610.1 658.9,613.8 660.3,618.2 662.7,618.8 665.8,617.4 668.6,615.4 671.3,612.8 673.0,611.9 674.9,611.0 677.6,608.2 678.6,606.3 680.3,611.4 681.8,614.5 682.9,617.7 684.5,620.7 685.9,622.6 687.8,624.3 691.0,623.2 693.6,620.8 695.6,620.3 697.9,620.2 700.5,617.5 703.8,615.6 705.2,617.5 706.9,619.1 708.8,620.6 711.2,621.6 712.5,623.4 714.7,621.4 717.4,620.4 718.9,622.7 720.7,623.7 723.7,626.2 725.3,628.0 728.5,628.2 731.5,629.2 734.5,630.3 737.3,631.9 739.4,630.6 740.8,629.0 742.0,627.2 743.0,625.1 744.6,623.6 747.9,624.5 750.9,626.7 751.7,628.7 755.2,630.3 758.5,631.3 761.5,629.9 764.5,629.4 767.2,629.4 770.8,628.8 773.2,626.0 776.1,624.8 778.3,627.0 780.2,628.5 782.6,628.3 785.9,626.4 788.7,627.8 792.2,629.7 795.0,632.4 796.5,634.6 799.6,633.1 801.0,631.6 802.2,629.9 802.8,627.5 803.9,625.7 806.0,626.2 806.1,632.0 807.1,637.6 809.6,637.1 812.6,636.1 815.4,634.6 818.3,633.1 821.5,632.7 823.6,632.6 825.2,634.3 825.8,636.9 826.5,639.3 828.5,640.7 830.8,641.8 833.2,640.3 836.3,638.9 839.7,638.1 842.6,637.7 845.9,638.0 847.1,639.6 848.9,637.7 850.4,635.5 851.4,632.8 852.8,630.5 854.5,628.4 856.1,626.1 857.3,630.6 858.5,641.0 859.0,644.0 862.3,642.6 864.9,640.1 868.0,638.3 871.2,636.8 872.2,635.1 874.3,634.9 877.4,636.2 880.7,637.9 882.4,641.8 883.3,645.8 884.6,649.8 885.8,652.1 887.3,649.7 888.4,647.4 889.3,645.1 891.3,643.6 893.7,642.4 895.7,642.6 899.5,643.3 902.5,645.3 905.2,647.8 908.4,649.4 909.7,651.2 912.9,651.2 916.1,650.6 919.0,651.3 921.3,649.9 922.8,646.4 924.1,642.8 924.5,640.5 926.6,642.3 927.8,643.9 930.8,643.5 933.8,643.0 936.7,642.7 938.1,644.9 941.2,646.0 944.6,646.5 947.5,648.2 950.8,648.8 953.2,651.6 956.0,653.8 959.2,655.8 961.2,656.4 963.9,659.1 966.2,660.8 968.8,658.0 970.1,656.2 971.8,654.8 973.2,653.0 974.6,651.3 977.7,650.2 980.8,650.9 983.3,653.4 986.7,653.5 989.3,654.8 990.8,656.2 994.1,656.2 997.2,656.7 1000.2,657.9 1003.1,657.5 1005.7,655.2 1008.9,654.2 1011.7,656.9 1013.8,657.9 1015.5,659.3 1016.3,661.6 1017.7,663.3 1019.8,664.3 1021.0,666.2 1024.4,665.6 1025.5,663.7 1026.8,662.0 1028.8,661.0 1030.2,659.4 1031.5,657.6 1034.4,659.8 1037.6,661.6 1040.3,664.2 1043.5,666.1 1046.7,667.2 1049.8,668.5 1052.4,670.8 1055.2,672.6 1058.9,672.7 1061.8,674.3 1064.6,676.3 1067.6,677.7 1070.8,673.9 1073.1,671.0 1074.0,667.5 1076.1,668.6 1079.6,669.7 1082.5,671.6 1084.8,674.6 1088.5,675.3 1091.5,674.1 1094.7,673.0 1097.8,671.6 1099.5,670.0 1102.6,671.8 1105.6,673.8 1106.5,675.6 1109.7,677.2 1113.2,678.4 1115.4,681.5 1118.7,683.1 1121.4,685.4 1124.4,687.1 1126.3,685.6 1127.9,684.1 1128.7,681.8 1131.3,684.1 1132.7,686.1 1134.6,687.7 1136.6,688.7 1138.0,685.8 1139.5,683.0 1140.6,680.0 1143.7,682.9 1145.6,685.0 1147.2,687.2 1149.0,689.3 1151.5,691.7 1154.5,691.2 1157.3,690.4 1160.5,691.1 1163.1,693.3 1166.5,693.2 1169.3,694.6 1172.5,694.9 1175.9,695.2 1178.5,692.6 1181.6,690.8 1184.5,688.6 1187.8,687.2 1189.7,692.3 1190.8,697.9 1191.9,701.6 1195.0,701.2 1198.0,701.6 1201.0,702.3 1204.0,701.7 1207.0,702.5 1210.0,702.3 1213.0,702.1 1215.9,703.6 1219.0,702.8 1221.7,703.0 1221.5,705.1 1222.9,709.6 1225.0,712.1 1227.8,710.5 1230.9,710.2 1233.8,709.0 1237.2,709.4 1239.2,709.6 1241.1,710.5 1243.0,711.4 1244.5,712.7 1246.1,714.0 1247.6,715.3 1249.1,716.6 1250.5,718.0 1251.9,719.6 1253.1,721.2 1255.1,721.2 1258.0,719.9 1260.3,718.9 1262.3,720.3 1264.8,722.7 1268.4,722.2 1271.5,721.8 1274.5,721.3 1277.4,720.3 1280.5,721.2 1283.4,725.5 1285.5,728.1 1287.3,730.9 1288.0,734.2 1290.7,733.5 1294.1,734.5 1296.9,732.9 1300.0,732.8 1302.8,731.2 1304.6,733.5 1305.7,735.8 1307.2,737.7 1308.7,739.6 1310.2,741.4 1311.9,743.2 1313.4,745.1 1316.6,744.9 1319.5,743.6 1322.2,746.1 1324.1,749.1 1326.0,752.2 1326.3,754.4 1328.5,754.1 1331.6,754.2 1334.4,752.8 1337.8,755.6 1339.1,758.0 1341.0,759.9 1342.8,761.9 1344.2,764.2 1345.2,766.8 1346.2,769.3 1347.6,771.6 1349.3,773.7 1351.0,775.7 1354.7,774.0 1355.6,771.7 1356.0,769.3 1358.5,770.5 1361.6,770.3 1364.5,770.9 1367.3,774.0 1368.9,775.6 1370.8,777.0 1372.5,778.6 1373.5,780.7 1375.0,782.5 1376.5,784.2 1379.2,782.4 1382.6,782.7 1385.8,784.1 1387.1,785.6 1388.6,787.0 1390.6,787.7 1391.9,789.2 1392.8,791.3 1394.2,793.1 1395.7,795.0 1397.2,796.9 1398.9,798.7 1400.7,800.4 1402.4,802.2 1403.8,804.2 1404.2,806.9 1406.0,808.3 1408.0,809.5 1409.6,811.0 1411.1,812.6 1412.4,814.3 1415.5,814.9 1418.5,815.2 1421.5,815.1 1424.5,815.8 1426.7,817.6 1428.2,820.9 1429.1,824.4 1430.7,827.0 1432.3,828.3 1434.9,831.3 1436.1,832.9 1439.7,834.8 1441.7,835.4 1443.9,838.9 1446.0,840.5 1448.5,842.3 1451.6,844.2 1454.9,845.9 1457.1,849.1 1461.5,849.2 1462.3,851.5 1463.5,853.3 1465.0,855.0 1466.8,856.8 1467.8,859.6 1469.1,862.3 1470.7,864.7 1472.1,867.3 1473.6,869.8 1475.5,872.0 1477.0,874.3 1478.5,876.6 1480.2,878.5 1481.0,881.1 1482.0,883.6 1483.7,885.5 1485.6,887.2 1487.4,889.1 1489.3,890.9 1490.8,892.7 1492.0,894.5 1493.4,896.1 1494.5,897.9 1496.5,898.7 1498.2,899.9 1498.6,902.0 1499.2,904.0 1502.6,906.3 1505.6,908.9 1506.5,910.7 1506.8,913.0 1507.6,914.9 1510.3,917.7 1513.7,919.9 1515.9,920.6 1516.4,922.7 1516.8,924.9 1519.6,927.6 1520.1,929.6 1523.2,932.1 1525.2,932.9 1526.6,936.6 1527.0,938.7 1529.0,942.0 1531.6,944.7 1535.0,946.9 1537.0,950.0 1538.5,953.5 1540.7,956.5 1542.7,957.4 1544.0,960.9 1546.7,963.5 1548.3,966.9 1551.0,969.4 1552.3,973.0 1554.3,976.0 1556.1,979.2 1557.8,982.4 1559.7,983.3 1561.7,986.3 1563.7,989.3 1565.7,990.1 1567.0,993.6 1567.1,995.7 1568.4,999.1 1571.4,1001.4 1573.0,1004.6 1574.9,1007.6 1577.1,1010.4 1580.1,1012.7 1582.3,1015.5 1582.2,1017.7 1581.8,1020.0 1584.3,1022.6 1586.6,1023.2 1587.4,1026.9 1590.0,1029.4 1591.8,1032.4 1591.7,1034.5 1594.1,1037.1 1596.2,1039.9 1596.1,1042.0 1598.2,1044.8 1600.2,1047.6 1600.9,1051.1 1603.3,1053.8 1604.6,1057.0 1605.3,1060.5 1607.4,1063.2 1610.0,1065.7 1611.5,1068.7 1613.0,1071.8 1616.1,1074.0 1616.6,1077.6 1617.7,1080.8 1619.1,1083.9 1620.5,1086.9 1622.5,1089.7 1624.1,1092.6 1626.0,1095.5 1627.4,1098.5 1628.4,1101.7 1630.8,1104.3 1632.3,1107.3 1632.5,1110.9 1634.6,1113.6 1636.0,1116.6 1636.7,1120.0 1638.7,1122.8 1640.4,1125.7 1642.3,1126.6 1644.2,1129.4 1643.2,1133.5 1644.4,1136.6 1646.6,1139.3 1648.6,1142.0 1649.0,1145.4 1650.5,1148.4 1652.3,1151.2 1654.2,1154.0 1655.1,1157.2 1656.3,1160.3 1657.3,1163.5 1659.1,1166.3 1659.9,1169.5 1660.6,1172.8 1662.9,1175.4 1663.4,1178.8 1665.8,1181.3 1667.7,1182.3 1668.6,1185.5 1669.4,1188.7 1671.3,1191.5 1672.4,1194.6 1673.7,1197.6 1675.2,1200.5 1676.6,1203.5 1677.2,1206.8 1679.0,1209.6 1680.2,1212.7 1682.1,1215.4 1683.9,1216.4 1684.3,1219.8 1683.8,1221.8 1686.2,1224.3 1686.0,1228.0 1688.0,1230.6 1690.4,1233.2 1689.2,1235.4 1690.6,1238.4 1692.4,1241.2 1693.7,1244.2 1696.3,1246.6 1695.7,1250.4 1697.4,1253.2 1698.6,1256.2 1701.0,1258.7 1701.8,1261.9 1702.7,1265.0 1703.6,1268.1 1705.3,1271.0 1705.7,1274.3 1707.1,1277.2 1707.8,1280.4 1709.9,1283.1 1711.3,1286.0 1712.3,1289.1 1711.8,1292.7 1714.5,1295.1 1715.9,1298.0 1716.3,1301.4 1716.6,1304.7 1718.4,1305.7 1720.1,1308.6 1720.8,1311.8 1721.6,1314.9 1724.1,1317.4 1725.1,1320.5 1726.4,1323.4 1728.0,1326.3 1728.4,1329.5 1729.5,1332.6 1731.2,1335.4 1732.1,1338.5 1733.4,1341.5 1734.6,1344.5 1734.6,1347.9 1737.1,1350.4 1737.1,1353.9 1739.9,1356.3 1740.9,1359.3 1740.7,1362.9 1743.1,1365.4 1743.0,1368.9 1742.5,1372.6 1744.5,1373.5 1746.8,1374.3 1747.1,1377.7 1748.0,1380.8 1749.5,1383.7 1750.0,1387.0 1752.0,1388.0 1753.8,1389.0 1752.6,1393.0 1754.9,1395.5 1755.3,1398.9 1757.1,1401.6 1758.5,1404.5 1758.8,1407.9 1761.8,1410.2 1762.3,1413.5 1764.1,1416.2 1764.9,1419.5 1766.0,1422.5 1766.1,1426.0 1767.4,1428.9 1769.8,1431.5 1770.3,1434.8 1771.3,1437.9 1772.9,1440.8 1775.1,1443.4 1775.8,1446.6 1777.0,1449.6 1778.2,1452.7 1779.0,1455.9 1780.7,1458.7 1781.6,1461.8 1783.4,1464.6 1785.1,1467.4 1785.7,1470.7 1786.6,1473.8 1788.0,1476.8 1790.3,1479.4 1791.6,1482.3 1791.3,1486.0 1792.8,1488.9 1794.5,1489.9 1794.5,1493.5 1795.7,1496.5 1798.4,1498.9 1799.0,1502.1 1800.0,1505.2 1800.6,1508.4 1802.4,1511.2 1802.9,1514.4 1804.4,1517.3 1805.1,1520.5 1808.2,1522.8 1809.0,1525.9 1809.5,1529.2 1810.7,1532.1 1812.1,1535.1 1813.2,1538.1 1815.6,1540.6 1816.0,1543.9 1815.6,1547.4 1818.3,1549.9 1819.4,1552.8 1820.1,1556.0 1820.2,1559.4 1821.6,1562.2 1822.8,1565.2 1823.9,1568.2 1826.3,1570.7 1826.0,1574.2 1826.7,1577.3 1827.9,1580.3 1829.2,1583.2 1830.2,1586.2 1830.7,1589.4 1832.1,1592.3 1834.2,1594.9 1834.9,1598.1 1835.8,1601.2 1837.0,1604.1 1838.1,1607.1 1839.1,1610.2 1840.1,1613.2 1841.3,1616.2 1842.3,1619.2 1843.2,1622.3 1845.2,1625.0 1846.4,1628.0 1847.2,1631.1 1848.1,1634.2 1848.5,1637.5 1849.9,1640.4 1851.3,1643.3 1853.2,1646.1 1853.8,1649.3 1855.4,1652.1 1856.4,1655.2 1857.8,1658.1 1858.2,1661.4 1859.8,1664.3 1861.2,1667.2 1862.6,1670.1 1863.6,1673.2 1864.7,1676.3 1866.2,1679.2 1868.2,1681.9 1869.1,1685.0 1870.0,1688.2 1871.3,1691.1 1872.8,1694.0 1874.0,1697.1 1875.0,1700.2 1876.2,1703.3 1877.6,1706.2 1879.0,1709.1 1880.0,1712.3 1881.5,1715.2 1882.7,1718.3 1884.1,1721.2 1885.6,1724.1 1886.8,1727.2 1888.2,1730.2 1889.4,1733.2 1890.7,1736.3 1891.9,1739.3 1893.5,1742.2 1894.7,1745.2 1896.4,1748.1 1897.4,1751.2 1898.8,1754.2 1900.5,1757.1 1901.9,1760.0 1902.5,1763.3 1904.1,1766.2 1905.3,1769.3 1906.9,1772.1 1908.0,1775.2 1909.2,1778.3 1910.4,1781.3 1911.9,1784.2 1913.2,1787.2 1914.4,1790.2 1915.8,1793.2 1917.1,1796.2 1918.3,1799.2 1919.6,1802.2 1920.9,1805.2 1922.0,1808.2 1923.4,1811.2 1924.7,1814.2 1926.1,1817.1 1927.1,1820.2 1928.4,1823.2 1929.6,1826.2 1930.8,1829.3 1932.0,1832.3 1933.2,1835.3 1934.6,1838.2 1935.9,1841.2 1937.3,1844.2 1938.6,1847.2 1939.7,1850.2 1941.0,1853.2 1942.5,1856.1 1943.8,1859.1 1945.0,1862.2 1946.3,1865.2 1947.5,1868.2 1949.1,1871.1 1950.4,1874.1 1951.5,1877.2 1952.9,1880.2 1954.5,1883.1 1955.5,1886.3 1957.1,1889.2 1958.5,1892.2 1959.8,1895.2 1961.3,1898.2 1962.8,1901.2 1964.1,1904.2 1965.4,1907.2 1966.9,1910.2 1968.4,1913.2 1969.7,1916.2 1971.2,1919.2 1972.4,1922.3 1973.9,1925.2 1975.2,1928.3 1976.9,1931.1 1978.0,1934.3 1979.6,1937.2 1981.0,1940.2 1982.4,1943.2 1983.7,1946.2 1985.0,1949.2 1986.7,1952.1 1987.8,1955.2 1989.0,1958.2 1990.4,1961.2 1991.6,1964.3 1993.1,1967.2 1994.3,1970.2 1995.6,1973.2 1996.9,1976.2 1998.1,1979.2 1999.4,1982.2 2000.6,1985.3 2001.9,1988.2 2003.3,1991.2 2004.5,1994.1 2005.5,1997.2 2006.6,2000.3 2007.9,2003.2 2009.2,2006.1 2010.3,2009.2 2011.5,2012.2 2012.5,2015.2 2013.7,2018.2 2014.8,2021.2 2016.1,2024.2 2017.1,2027.2 2018.2,2030.2 2019.3,2033.2 2020.3,2036.2 2021.5,2039.2 2022.4,2042.3 2023.6,2045.2 2024.9,2048.2 2025.8,2051.2 2026.8,2054.3 2027.9,2057.2 2028.4,2058.0" stroke="#FF8000"/>
<path d="M375.8,310.0 377.5,315.5 379.1,320.8 380.5,316.3 381.5,311.4 383.1,309.7 384.1,312.5 384.8,315.7 386.5,318.3 388.3,320.9 391.2,318.7 392.5,316.5 393.6,314.3 395.3,312.5 397.2,310.9 400.0,320.4 401.9,327.9 404.5,328.0 407.5,329.3 409.8,328.3 411.6,325.2 413.1,323.5 415.1,322.5 416.1,320.5 416.7,318.2 419.2,321.0 422.1,322.6 425.5,323.1 428.7,324.1 431.6,324.6 434.7,323.2 437.0,322.0 438.9,322.5 442.2,323.1 444.3,324.1 446.0,321.5 448.0,320.1 450.6,321.7 454.0,320.9 457.1,321.4 460.0,320.4 463.7,320.1 465.3,318.2 466.9,323.1 468.6,327.4 469.7,329.3 470.1,325.8 472.2,319.7 474.0,313.4 474.5,310.4 477.0,307.5 480.9,306.5 482.9,306.1 484.8,311.2 485.5,318.3 486.0,321.2 488.4,322.3 491.5,323.4 494.4,324.9 495.5,318.2 496.5,314.5 499.2,314.7 502.1,313.6 505.2,313.0 507.9,311.2 509.6,312.3 511.8,315.4 513.3,313.7 514.7,312.1 516.5,310.8 518.9,310.1 520.7,308.9 521.7,306.9 523.1,305.3 524.6,303.7 527.5,305.6 529.4,306.8 530.4,308.9 531.5,310.8 532.9,312.4 534.6,313.8 537.0,314.4 539.3,312.5 540.3,310.6 542.2,311.3 543.6,313.4 545.1,315.4 546.7,317.3 549.0,317.3 552.0,319.0 554.8,321.0 557.5,318.8 559.6,317.5 561.6,316.1 563.0,314.3 563.9,312.0 565.0,309.8 566.5,308.1 567.1,312.5 569.2,316.8 570.8,321.3 574.0,319.5 575.6,317.9 577.0,316.1 577.9,313.8 579.4,312.1 581.1,310.5 582.9,308.7 584.9,310.1 586.5,311.3 588.0,312.6 589.6,313.9 590.7,315.6 591.4,317.9 592.4,319.8 594.4,320.7 595.8,319.2 598.7,316.7 599.7,314.9 600.6,313.0 604.0,311.1 607.4,312.9 608.9,315.0 610.4,317.0 612.2,318.9 613.4,321.1 614.6,323.4 616.8,325.0 619.6,322.4 620.6,318.0 621.8,313.7 623.4,309.5 625.1,305.4 626.0,303.3 628.7,305.4 629.9,307.6 630.8,310.0 631.6,312.5 633.1,314.5 635.7,315.6 638.1,316.8 639.0,319.3 642.0,318.0 643.8,316.5 644.6,314.1 645.6,312.0 647.0,310.1 648.6,308.4 650.8,307.3 652.2,305.4 653.5,314.4 653.9,318.5 656.4,317.2 659.2,315.3 662.1,317.2 665.4,317.0 668.4,317.8 670.4,319.6 673.1,319.4 674.5,317.9 677.5,317.1 680.0,317.5 681.6,319.7 685.0,321.2 687.8,323.7 689.9,323.9 690.7,321.2 691.9,317.8 693.7,314.5 696.0,311.5 698.0,308.4 700.5,310.1 701.6,313.2 703.2,316.0 704.6,318.9 705.7,322.0 707.3,324.6 709.0,318.8 710.9,313.6 711.8,310.0 713.3,312.1 715.0,313.5 716.5,315.0 717.8,316.7 719.0,318.6 720.9,319.7 723.1,320.5 724.0,323.0 727.0,322.2 730.1,324.8 731.0,327.2 732.7,329.0 735.1,330.2 736.5,332.2 739.3,330.9 741.2,330.4 741.9,328.1 745.8,327.1 748.9,328.7 752.7,329.6 754.0,326.5 756.0,323.8 757.5,322.0 759.1,320.2 760.0,318.1 761.8,316.9 763.9,316.0 765.2,314.3 766.4,312.5 768.1,317.0 770.5,320.2 772.1,323.7 772.9,327.6 773.9,329.7 776.2,327.6 779.6,326.8 783.1,326.2 786.0,324.4 788.0,323.5 789.8,326.5 791.6,329.6 793.4,332.5 794.8,335.8 796.2,339.0 797.9,337.1 799.0,333.8 799.9,330.5 801.7,327.6 803.4,324.7 804.3,322.8 806.7,324.8 807.5,327.1 808.9,328.7 811.3,329.4 813.0,330.7 814.0,332.8 815.4,334.4 818.2,336.0 821.5,335.5 824.6,336.2 827.4,335.1 829.2,333.3 830.3,331.2 831.8,329.2 833.7,327.6 835.8,328.4 837.1,334.4 837.6,340.5 838.5,342.3 841.2,339.3 843.1,337.7 843.9,335.2 844.9,332.9 847.0,331.5 849.0,330.0 850.2,327.8 851.8,326.0 854.4,328.2 855.7,330.4 857.1,332.6 858.5,334.8 860.1,336.8 862.2,338.4 864.1,340.3 865.1,342.7 866.9,344.6 869.0,346.3 870.5,344.3 871.2,341.9 872.9,340.2 874.8,338.8 876.3,336.9 878.2,338.3 878.8,342.7 879.5,347.1 880.6,350.0 883.2,346.8 885.1,344.8 886.4,342.4 887.5,339.9 889.2,337.7 891.7,341.1 893.9,342.9 895.4,345.2 896.4,347.8 897.6,350.3 899.4,352.3 901.8,354.0 904.5,350.9 906.3,347.1 908.5,345.9 911.4,347.3 913.8,348.2 916.4,344.4 917.0,341.4 918.4,338.9 920.6,336.9 921.9,334.4 922.6,331.9 924.4,333.2 924.9,336.4 925.9,339.3 928.1,341.6 929.9,344.0 931.1,346.8 934.0,347.6 937.0,347.7 940.0,347.9 942.5,347.4 943.2,353.0 944.1,361.4 945.3,369.7 946.5,378.0 948.8,382.3 949.0,376.5 950.3,366.6 951.9,356.8 953.2,346.9 956.3,345.1 960.0,345.0 961.5,343.2 964.2,349.2 965.7,353.9 966.5,358.7 966.7,362.9 969.5,363.7 971.8,360.7 974.8,359.0 977.2,356.1 979.2,355.9 980.5,357.5 982.1,358.8 983.6,360.2 985.5,361.1 986.8,362.7 987.4,365.0 989.0,366.3 992.0,364.3 994.1,364.0 996.8,361.5 998.8,361.1 1001.4,358.4 1003.9,356.8 1005.8,361.0 1008.2,363.4 1009.8,366.1 1010.6,369.3 1011.9,372.3 1013.4,374.9 1016.5,373.8 1019.5,375.4 1021.6,374.9 1022.4,372.4 1023.6,370.2 1025.0,368.1 1026.6,366.2 1028.1,364.2 1029.9,362.4 1030.6,364.5 1032.3,366.0 1034.1,367.6 1035.7,369.3 1036.6,371.5 1037.8,373.5 1040.4,374.3 1042.4,375.8 1045.0,375.8 1047.5,374.5 1048.6,377.9 1050.6,381.1 1052.9,384.2 1055.1,387.4 1057.0,383.3 1058.1,380.2 1059.6,378.3 1060.5,382.3 1061.9,385.1 1063.3,387.8 1065.0,389.1 1066.0,387.1 1067.5,385.7 1069.7,385.0 1071.1,383.5 1072.0,381.5 1074.4,382.7 1076.3,383.7 1078.1,384.9 1079.6,386.3 1081.1,387.8 1082.5,389.4 1084.0,390.9 1085.8,392.1 1087.2,393.6 1090.5,394.8 1093.1,392.4 1096.2,390.9 1099.1,389.1 1101.8,387.1 1102.8,390.9 1103.9,394.4 1105.9,397.4 1108.1,400.2 1111.2,400.7 1113.2,400.7 1115.7,398.0 1118.4,396.4 1119.9,399.1 1122.6,401.0 1124.4,404.2 1127.6,404.6 1130.3,406.7 1133.6,406.7 1136.0,408.1 1137.4,403.4 1140.3,400.7 1141.9,397.5 1144.9,402.2 1145.5,406.5 1146.3,410.7 1148.5,414.3 1150.4,418.1 1150.3,421.4 1152.7,421.4 1153.5,419.1 1154.1,416.6 1155.5,414.8 1157.3,413.4 1158.3,417.8 1160.9,423.8 1163.2,421.2 1164.4,419.4 1165.8,417.9 1167.7,416.8 1169.4,415.6 1171.2,414.5 1172.9,413.2 1174.1,411.5 1175.5,414.0 1177.1,417.5 1179.0,421.0 1181.1,424.3 1182.3,428.1 1182.9,432.0 1183.5,434.3 1185.5,431.3 1187.0,429.9 1188.8,428.8 1190.4,427.4 1193.0,428.9 1195.0,431.1 1196.6,433.5 1197.7,436.3 1199.1,438.8 1200.4,441.5 1202.7,442.6 1205.4,441.0 1208.5,440.7 1211.6,440.3 1215.1,443.3 1216.7,446.2 1218.3,449.1 1219.4,452.2 1220.6,455.3 1222.4,458.1 1225.1,456.4 1228.0,454.1 1231.3,452.2 1231.8,461.7 1231.8,467.7 1234.6,467.2 1235.8,465.5 1238.7,462.8 1240.4,461.8 1242.7,458.5 1244.0,456.9 1245.9,458.0 1246.9,460.6 1248.2,463.1 1250.0,465.2 1252.0,467.3 1254.0,469.3 1255.7,471.5 1257.0,474.0 1258.4,476.4 1259.7,478.8 1260.6,481.6 1262.6,477.4 1265.0,475.2 1265.9,472.1 1268.4,470.4 1269.6,472.2 1270.0,474.7 1270.9,476.7 1273.5,479.4 1276.7,481.5 1279.0,481.6 1282.2,483.6 1285.1,486.1 1286.2,487.8 1287.7,489.1 1289.5,491.6 1291.5,493.0 1292.4,495.2 1293.8,496.8 1295.2,498.5 1297.2,499.4 1299.7,501.8 1302.9,503.1 1305.4,505.3 1308.0,503.4 1310.9,501.0 1313.8,498.0 1315.2,502.7 1316.2,507.4 1316.8,510.5 1319.0,517.7 1320.6,523.1 1322.5,525.4 1324.1,527.3 1325.8,529.1 1328.3,531.9 1331.6,530.9 1333.7,531.8 1336.1,531.6 1339.0,530.4 1342.1,530.8 1344.9,532.2 1348.2,531.5 1349.5,534.7 1351.2,537.6 1353.5,540.2 1354.7,543.3 1357.4,545.9 1360.5,548.2 1362.8,551.5 1366.0,551.6 1369.0,551.0 1370.3,552.8 1371.8,556.3 1373.8,559.6 1375.2,563.2 1376.8,566.5 1378.3,569.9 1379.3,573.4 1380.5,576.1 1383.1,578.3 1384.5,580.6 1386.4,582.7 1388.7,585.2 1390.9,587.3 1393.5,586.9 1394.9,585.2 1398.0,587.9 1398.5,590.7 1399.5,593.0 1401.3,594.2 1404.2,596.3 1405.7,598.6 1406.5,601.5 1407.5,604.1 1409.1,606.4 1410.7,608.6 1412.6,609.9 1414.4,611.3 1416.1,613.0 1417.4,614.8 1418.3,617.1 1419.8,618.8 1422.3,619.8 1423.7,621.8 1424.6,624.1 1425.9,626.1 1427.8,627.6 1429.3,629.5 1431.0,630.9 1431.9,633.1 1432.4,635.6 1434.0,637.2 1436.2,638.2 1437.8,639.5 1438.6,642.4 1440.1,644.7 1441.9,646.8 1443.4,648.7 1444.9,650.3 1446.7,651.5 1448.1,653.3 1449.5,654.9 1451.4,656.0 1453.3,658.0 1455.5,660.7 1457.3,663.5 1458.2,666.8 1459.5,669.9 1461.0,671.8 1462.4,673.5 1464.0,675.0 1465.7,676.4 1466.9,678.3 1468.6,679.6 1470.1,681.2 1470.3,684.1 1472.2,685.2 1473.2,687.4 1474.6,688.9 1475.2,690.9 1478.3,693.3 1481.0,696.0 1483.2,699.1 1483.5,701.2 1486.0,704.0 1487.9,704.9 1490.8,707.5 1492.6,708.4 1493.4,712.4 1493.4,714.7 1495.2,717.9 1497.9,720.4 1500.7,722.9 1502.7,725.9 1504.8,726.7 1504.8,728.8 1505.0,730.9 1505.8,734.6 1509.3,736.6 1511.6,739.4 1512.1,743.2 1513.6,746.5 1516.4,748.9 1518.1,752.0 1517.4,754.4 1520.6,756.6 1522.9,757.3 1524.6,758.3 1525.4,761.8 1526.2,765.4 1527.7,768.6 1529.3,771.6 1531.0,774.6 1533.2,777.3 1535.2,780.2 1536.5,783.4 1539.0,786.0 1539.3,789.8 1541.1,792.7 1542.6,795.8 1546.0,797.9 1548.0,798.7 1549.2,802.0 1549.9,805.6 1551.7,808.5 1552.8,811.8 1554.7,814.7 1557.6,817.1 1558.0,820.8 1559.9,823.6 1561.1,826.9 1563.4,827.6 1565.3,828.5 1565.3,832.4 1566.8,835.6 1567.8,839.0 1570.8,841.2 1572.0,844.5 1573.6,847.5 1574.7,850.8 1576.3,853.8 1578.4,856.5 1579.4,859.9 1581.8,862.4 1583.5,865.4 1583.4,869.2 1587.0,871.2 1588.1,874.4 1590.2,877.1 1591.2,880.4 1591.7,883.9 1590.9,886.2 1594.6,888.1 1597.0,888.8 1596.3,892.8 1597.9,895.8 1600.1,898.4 1603.3,900.6 1603.5,904.2 1602.5,906.5 1604.9,909.0 1605.8,912.3 1608.5,914.7 1608.6,918.4 1609.9,921.4 1611.7,922.4 1613.4,925.3 1614.1,928.6 1616.4,931.2 1618.8,933.7 1617.4,936.2 1615.6,938.9 1617.9,941.5 1621.5,943.5 1622.2,946.8 1621.8,950.7 1625.7,952.5 1626.7,955.6 1628.0,958.7 1630.0,961.4 1629.1,963.7 1631.8,966.1 1632.3,969.5 1631.1,972.0 1634.9,973.8 1637.3,974.5 1637.2,978.3 1638.8,981.2 1639.0,984.8 1641.6,987.2 1644.4,989.6 1646.3,990.5 1646.0,994.4 1647.3,997.5 1647.8,1000.9 1649.6,1003.7 1651.8,1004.5 1652.9,1007.7 1652.6,1009.6 1654.5,1012.4 1657.1,1014.9 1657.7,1018.2 1657.9,1021.8 1659.7,1024.6 1660.8,1027.7 1661.8,1030.9 1664.5,1033.3 1664.5,1036.9 1667.2,1039.3 1667.8,1042.6 1669.8,1043.5 1670.1,1047.0 1671.6,1049.9 1672.4,1053.1 1674.2,1055.9 1674.5,1059.3 1675.7,1062.3 1675.8,1065.8 1678.1,1068.4 1680.3,1071.0 1679.7,1073.0 1678.8,1075.1 1680.9,1077.7 1682.7,1080.5 1684.6,1083.2 1684.2,1086.9 1683.7,1088.8 1685.5,1089.9 1687.0,1092.7 1689.0,1095.4 1690.1,1098.5 1689.3,1100.5 1691.9,1103.0 1693.8,1104.0 1694.5,1107.2 1696.4,1109.9 1697.3,1113.0 1698.3,1116.1 1700.2,1117.1 1699.9,1120.7 1702.2,1123.2 1701.2,1125.4 1702.7,1128.3 1703.6,1131.4 1705.5,1134.1 1707.3,1136.9 1709.5,1139.5 1709.9,1142.8 1709.3,1144.7 1708.8,1146.7 1708.5,1150.3 1710.2,1151.3 1712.5,1152.2 1713.1,1155.4 1716.2,1157.6 1715.8,1161.2 1716.9,1164.3 1717.1,1167.7 1719.3,1168.5 1721.6,1171.1 1719.6,1175.3 1721.5,1178.0 1722.7,1181.0 1724.3,1183.9 1724.9,1187.1 1726.8,1188.1 1728.3,1191.0 1728.1,1194.6 1728.7,1197.8 1730.6,1198.8 1732.6,1199.7 1734.5,1202.4 1736.3,1203.5 1735.5,1205.5 1734.1,1207.8 1733.0,1210.0 1735.0,1212.7 1736.8,1215.4 1738.1,1218.4 1739.9,1221.1 1740.1,1224.5 1739.2,1226.6 1743.3,1228.5 1744.8,1231.3 1745.1,1234.6 1746.4,1237.6 1745.2,1239.8 1747.8,1242.2 1749.3,1245.1 1748.3,1248.9 1751.5,1251.1 1752.5,1254.1 1752.4,1257.6 1755.6,1259.8 1757.8,1260.7 1757.4,1264.3 1757.5,1267.6 1758.4,1270.7 1759.9,1273.6 1761.8,1276.3 1760.6,1278.4 1759.0,1280.7 1762.3,1282.9 1763.6,1285.8 1763.7,1289.1 1766.7,1291.4 1767.5,1294.5 1767.6,1297.8 1769.6,1300.5 1770.2,1303.6 1773.0,1306.0 1774.6,1308.8 1774.1,1312.3 1773.4,1314.2 1772.4,1316.2 1774.1,1319.0 1775.1,1322.0 1776.1,1325.0 1777.7,1327.8 1779.5,1328.8 1778.9,1332.4 1780.5,1335.2 1781.4,1338.2 1781.9,1341.4 1784.2,1342.3 1783.2,1346.0 1782.9,1349.4 1785.6,1351.8 1786.1,1355.0 1788.7,1357.5 1788.9,1360.8 1790.6,1363.5 1793.1,1366.0 1792.1,1368.0 1790.8,1370.1 1792.1,1373.1 1793.5,1376.0 1794.3,1379.0 1795.0,1382.2 1797.9,1384.5 1798.2,1387.8 1796.1,1390.2 1799.3,1392.4 1801.3,1395.1 1803.2,1397.8 1803.6,1401.0 1803.3,1404.5 1804.9,1407.3 1805.6,1410.4 1805.8,1413.7 1807.5,1414.8 1809.0,1417.6 1810.2,1420.6 1813.2,1422.9 1813.1,1426.3 1812.2,1428.3 1812.1,1431.7 1813.5,1434.5 1815.7,1435.5 1816.9,1438.4 1817.7,1441.5 1817.7,1444.9 1818.3,1448.0 1819.9,1450.8 1821.3,1453.7 1821.5,1457.0 1822.4,1460.0 1823.1,1463.1 1825.3,1465.7 1827.6,1468.3 1827.3,1471.8 1829.2,1474.5 1829.0,1477.9 1829.9,1481.0 1832.5,1483.4 1832.3,1486.8 1833.8,1489.7 1835.6,1492.4 1836.5,1495.5 1836.2,1498.9 1836.7,1502.1 1839.9,1504.4 1840.8,1507.4 1840.6,1510.8 1841.6,1513.9 1842.4,1516.9 1842.8,1520.1 1844.9,1522.8 1845.8,1525.8 1847.0,1528.7 1848.8,1531.4 1849.6,1534.5 1849.9,1537.7 1850.2,1540.9 1852.8,1543.4 1854.1,1546.3 1853.4,1549.8 1855.5,1552.4 1856.0,1555.6 1857.1,1558.5 1857.9,1561.5 1858.3,1564.7 1859.2,1567.7 1860.5,1570.6 1861.3,1573.6 1862.2,1576.6 1862.0,1579.8 1864.3,1582.4 1864.6,1585.6 1865.0,1588.7 1865.5,1591.8 1865.9,1595.0 1867.8,1597.7 1868.3,1600.8 1869.1,1603.8 1870.2,1606.7 1870.7,1609.8 1872.1,1612.6 1873.1,1615.6 1873.1,1618.8 1874.8,1621.6 1875.4,1624.7 1876.1,1627.7 1876.5,1630.8 1877.5,1633.8 1878.6,1636.7 1880.0,1639.6 1881.6,1642.4 1881.4,1645.7 1882.4,1648.7 1883.2,1651.7 1883.4,1654.9 1884.7,1657.8 1885.7,1660.8 1887.3,1663.6 1888.5,1666.5 1889.4,1669.6 1890.0,1672.7 1891.1,1675.7 1891.9,1678.7 1892.9,1681.7 1893.4,1684.9 1895.1,1687.7 1896.4,1690.6 1896.7,1693.8 1898.0,1696.7 1899.2,1699.7 1900.5,1702.6 1901.7,1705.5 1902.1,1708.8 1903.5,1711.6 1904.9,1714.5 1905.2,1717.8 1906.5,1720.7 1906.9,1723.9 1908.8,1726.6 1909.3,1729.8 1910.8,1732.6 1911.6,1735.7 1912.8,1738.6 1913.8,1741.7 1914.2,1744.9 1915.2,1747.9 1916.6,1750.7 1917.8,1753.7 1918.7,1756.7 1919.3,1759.8 1920.6,1762.7 1921.7,1765.7 1922.6,1768.7 1923.9,1771.6 1924.4,1774.7 1925.2,1777.8 1926.3,1780.7 1927.4,1783.7 1927.9,1786.8 1929.0,1789.7 1930.0,1792.7 1931.0,1795.7 1931.6,1798.7 1933.0,1801.6 1933.7,1804.7 1934.4,1807.7 1935.2,1810.7 1936.0,1813.7 1937.1,1816.7 1937.8,1819.7 1938.6,1822.7 1939.4,1825.7 1940.1,1828.7 1940.8,1831.7 1941.5,1834.8 1942.8,1837.7 1943.4,1840.7 1944.1,1843.7 1944.9,1846.7 1945.8,1849.7 1946.6,1852.7 1947.4,1855.7 1948.2,1858.7 1948.8,1861.7 1949.8,1864.7 1950.8,1867.6 1951.3,1870.7 1951.8,1873.8 1952.8,1876.7 1953.8,1879.7 1954.6,1882.7 1955.5,1885.7 1956.0,1888.7 1956.6,1891.8 1957.5,1894.8 1958.7,1897.7 1959.5,1900.7 1960.2,1903.7 1961.2,1906.7 1962.0,1909.7 1962.8,1912.7 1963.6,1915.7 1964.5,1918.6 1965.4,1921.7 1965.9,1924.7 1967.0,1927.7 1967.6,1930.7 1968.5,1933.7 1969.4,1936.7 1970.0,1939.7 1970.6,1942.8 1971.8,1945.7 1972.7,1948.7 1973.5,1951.7 1974.0,1954.8 1974.7,1957.8 1975.7,1960.7 1976.5,1963.7 1977.4,1966.7 1978.2,1969.7 1979.3,1972.6 1980.0,1975.7 1980.7,1978.7 1981.5,1981.7 1982.4,1984.6 1983.1,1987.7 1983.5,1990.8 1984.4,1993.7 1985.5,1996.6 1986.2,1999.7 1986.5,2002.8 1987.4,2005.7 1988.4,2008.7 1988.8,2011.7 1989.6,2014.7 1990.3,2017.7 1991.1,2020.7 1991.7,2023.7 1992.3,2026.7 1993.0,2029.7 1993.6,2032.7 1994.3,2035.7 1994.9,2038.7 1995.7,2041.7 1996.5,2044.6 1996.8,2047.7 1997.5,2050.7 1998.0,2053.7 1998.7,2056.7 1998.9,2058.0" stroke="#808080"/>
</g>
<g style="font-family:'Liberation Sans',Arial,sans-serif" font-size="105" fill="#000">
<text transform="translate(309,2089.5) scale(1,1.045)" text-anchor="end">0</text>
<text transform="translate(309,1871.6) scale(1,1.045)" text-anchor="end">1</text>
<text transform="translate(309,1653.7) scale(1,1.045)" text-anchor="end">2</text>
<text transform="translate(309,1435.8) scale(1,1.045)" text-anchor="end">3</text>
<text transform="translate(309,1217.9) scale(1,1.045)" text-anchor="end">4</text>
<text transform="translate(309,1000.0) scale(1,1.045)" text-anchor="end">5</text>
<text transform="translate(309,782.1) scale(1,1.045)" text-anchor="end">6</text>
<text transform="translate(309,564.2) scale(1,1.045)" text-anchor="end">7</text>
<text transform="translate(309,346.3) scale(1,1.045)" text-anchor="end">8</text>
<text transform="translate(309,128.4) scale(1,1.045)" text-anchor="end">9</text>
<text transform="translate(376.0,2208.8) scale(1,1.045)" text-anchor="middle">0.0</text>
<text transform="translate(589.8,2208.8) scale(1,1.045)" text-anchor="middle">0.1</text>
<text transform="translate(803.7,2208.8) scale(1,1.045)" text-anchor="middle">0.2</text>
<text transform="translate(1017.5,2208.8) scale(1,1.045)" text-anchor="middle">0.3</text>
<text transform="translate(1231.3,2208.8) scale(1,1.045)" text-anchor="middle">0.4</text>
<text transform="translate(1445.2,2208.8) scale(1,1.045)" text-anchor="middle">0.5</text>
<text transform="translate(1659.0,2208.8) scale(1,1.045)" text-anchor="middle">0.6</text>
<text transform="translate(1872.8,2208.8) scale(1,1.045)" text-anchor="middle">0.7</text>
<text transform="translate(2086.6,2208.8) scale(1,1.045)" text-anchor="middle">0.8</text>
<text transform="translate(2300.5,2208.8) scale(1,1.045)" text-anchor="middle">0.9</text>
</g>
<text transform="translate(1339,2400) scale(1,1.02)" text-anchor="middle" style="font-family:'Liberation Sans',Arial,sans-serif" font-size="125.3">Potential / V</text>
<text transform="translate(168,1784) rotate(-90)" style="font-family:'Liberation Sans',Arial,sans-serif" font-size="126">Current density / mA cm<tspan font-size="78" dy="-61">-2</tspan></text>
<rect x="403.8" y="1467.6" width="636.4" height="538.6" fill="#fff" stroke="#000" stroke-width="3.6"/>
<line x1="418" y1="1541" x2="655" y2="1541" stroke="#000000" stroke-width="12"/>
<text transform="translate(683,1577) scale(1,1.04)" style="font-family:'Liberation Sans',Arial,sans-serif" font-size="106.3">CXG</text>
<line x1="418" y1="1671.5" x2="655" y2="1671.5" stroke="#0000FF" stroke-width="12"/>
<text transform="translate(683,1708) scale(1,1.04)" style="font-family:'Liberation Sans',Arial,sans-serif" font-size="106.3">N-CXG</text>
<line x1="418" y1="1802.4" x2="655" y2="1802.4" stroke="#FF8000" stroke-width="12"/>
<text transform="translate(683,1839) scale(1,1.04)" style="font-family:'Liberation Sans',Arial,sans-serif" font-size="106.3">S-CXG</text>
<line x1="418" y1="1932.8" x2="655" y2="1932.8" stroke="#808080" stroke-width="12"/>
<text transform="translate(683,1970) scale(1,1.04)" style="font-family:'Liberation Sans',Arial,sans-serif" font-size="106.3">Pt</text>
</svg>
</body></html>
